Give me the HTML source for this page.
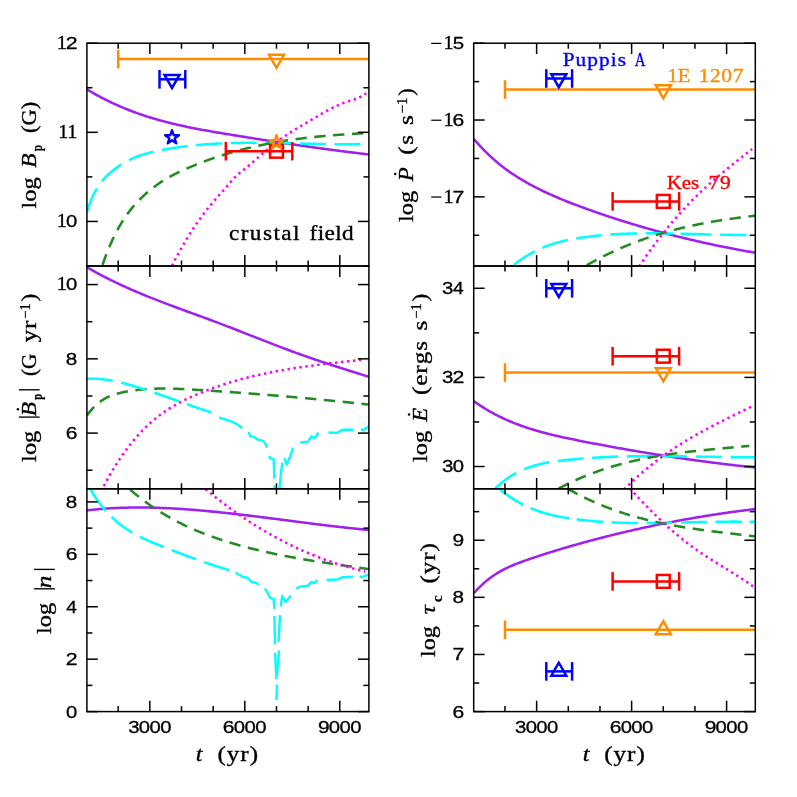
<!DOCTYPE html>
<html><head><meta charset="utf-8"><title>chart</title><style>html,body{margin:0;padding:0;background:#fff}text{font-kerning:none}svg{display:block;will-change:transform}</style></head><body>
<svg width="797" height="797" viewBox="0 0 797 797">
<rect width="797" height="797" fill="#fff"/>
<defs>
<clipPath id="c0"><rect x="86.90" y="43.20" width="282.00" height="222.80"/></clipPath>
<clipPath id="c1"><rect x="86.90" y="266.00" width="282.00" height="222.80"/></clipPath>
<clipPath id="c2"><rect x="86.90" y="488.80" width="282.00" height="222.80"/></clipPath>
<clipPath id="c3"><rect x="473.70" y="43.20" width="281.60" height="222.80"/></clipPath>
<clipPath id="c4"><rect x="473.70" y="266.00" width="281.60" height="222.80"/></clipPath>
<clipPath id="c5"><rect x="473.70" y="488.80" width="281.60" height="222.80"/></clipPath>
</defs>
<path d="M86.90 89.30 L88.19 90.08 L89.48 90.84 L90.76 91.60 L92.05 92.35 L93.34 93.09 L94.63 93.82 L95.91 94.55 L97.20 95.26 L98.49 95.96 L99.78 96.65 L101.06 97.34 L102.35 98.01 L103.64 98.68 L104.93 99.33 L106.22 99.98 L107.50 100.62 L108.79 101.25 L110.08 101.88 L111.37 102.49 L112.65 103.09 L113.94 103.69 L115.23 104.28 L116.52 104.86 L117.80 105.44 L119.09 106.00 L120.38 106.56 L121.67 107.11 L122.95 107.65 L124.24 108.18 L125.53 108.71 L126.82 109.23 L128.11 109.74 L129.39 110.25 L130.68 110.74 L131.97 111.23 L133.26 111.72 L134.54 112.19 L135.83 112.66 L137.12 113.13 L138.41 113.58 L139.69 114.03 L140.98 114.48 L142.27 114.91 L143.56 115.35 L144.85 115.77 L146.13 116.19 L147.42 116.60 L148.71 117.01 L150.00 117.41 L151.28 117.80 L152.57 118.19 L153.86 118.58 L155.15 118.96 L156.43 119.33 L157.72 119.70 L159.01 120.06 L160.30 120.42 L161.58 120.77 L162.87 121.12 L164.16 121.46 L165.45 121.80 L166.74 122.13 L168.02 122.46 L169.31 122.79 L170.60 123.10 L171.89 123.42 L173.17 123.73 L174.46 124.04 L175.75 124.34 L177.04 124.64 L178.32 124.94 L179.61 125.23 L180.90 125.51 L182.19 125.80 L183.48 126.08 L184.76 126.35 L186.05 126.63 L187.34 126.90 L188.63 127.17 L189.91 127.43 L191.20 127.69 L192.49 127.95 L193.78 128.20 L195.06 128.46 L196.35 128.70 L197.64 128.95 L198.93 129.20 L200.22 129.44 L201.50 129.68 L202.79 129.92 L204.08 130.15 L205.37 130.38 L206.65 130.62 L207.94 130.85 L209.23 131.07 L210.52 131.30 L211.80 131.52 L213.09 131.75 L214.38 131.97 L215.67 132.19 L216.95 132.41 L218.24 132.62 L219.53 132.84 L220.82 133.06 L222.11 133.27 L223.39 133.48 L224.68 133.70 L225.97 133.91 L227.26 134.12 L228.54 134.33 L229.83 134.54 L231.12 134.75 L232.41 134.96 L233.69 135.17 L234.98 135.38 L236.27 135.59 L237.56 135.80 L238.85 136.01 L240.13 136.22 L241.42 136.43 L242.71 136.63 L244.00 136.84 L245.28 137.05 L246.57 137.25 L247.86 137.46 L249.15 137.67 L250.43 137.87 L251.72 138.08 L253.01 138.28 L254.30 138.49 L255.58 138.69 L256.87 138.89 L258.16 139.10 L259.45 139.30 L260.74 139.50 L262.02 139.70 L263.31 139.90 L264.60 140.11 L265.89 140.31 L267.17 140.51 L268.46 140.71 L269.75 140.90 L271.04 141.10 L272.32 141.30 L273.61 141.50 L274.90 141.70 L276.19 141.89 L277.48 142.09 L278.76 142.29 L280.05 142.48 L281.34 142.68 L282.63 142.87 L283.91 143.06 L285.20 143.26 L286.49 143.45 L287.78 143.64 L289.06 143.83 L290.35 144.03 L291.64 144.22 L292.93 144.41 L294.22 144.60 L295.50 144.79 L296.79 144.97 L298.08 145.16 L299.37 145.35 L300.65 145.54 L301.94 145.72 L303.23 145.91 L304.52 146.09 L305.80 146.28 L307.09 146.46 L308.38 146.64 L309.67 146.83 L310.95 147.01 L312.24 147.19 L313.53 147.37 L314.82 147.55 L316.11 147.73 L317.39 147.91 L318.68 148.09 L319.97 148.26 L321.26 148.44 L322.54 148.62 L323.83 148.79 L325.12 148.97 L326.41 149.14 L327.69 149.32 L328.98 149.49 L330.27 149.66 L331.56 149.83 L332.85 150.00 L334.13 150.17 L335.42 150.34 L336.71 150.51 L338.00 150.68 L339.28 150.84 L340.57 151.01 L341.86 151.18 L343.15 151.34 L344.43 151.51 L345.72 151.67 L347.01 151.83 L348.30 151.99 L349.58 152.15 L350.87 152.31 L352.16 152.47 L353.45 152.63 L354.74 152.79 L356.02 152.95 L357.31 153.10 L358.60 153.26 L359.89 153.41 L361.17 153.57 L362.46 153.72 L363.75 153.87 L365.04 154.02 L366.32 154.18 L367.61 154.32 L368.90 154.47" fill="none" stroke="#a020f0" stroke-width="2.55" stroke-linejoin="round" clip-path="url(#c0)"/>
<path d="M86.90 212.24 L88.19 207.92 L89.48 204.08 L90.76 200.68 L92.05 197.65 L93.34 194.95 L94.63 192.50 L95.91 190.25 L97.20 188.15 L98.49 186.18 L99.78 184.33 L101.06 182.58 L102.35 180.94 L103.64 179.39 L104.93 177.93 L106.22 176.55 L107.50 175.25 L108.79 174.02 L110.08 172.85 L111.37 171.73 L112.65 170.66 L113.94 169.63 L115.23 168.64 L116.52 167.68 L117.80 166.76 L119.09 165.88 L120.38 165.02 L121.67 164.20 L122.95 163.41 L124.24 162.65 L125.53 161.92 L126.82 161.22 L128.11 160.55 L129.39 159.91 L130.68 159.29 L131.97 158.70 L133.26 158.13 L134.54 157.58 L135.83 157.06 L137.12 156.56 L138.41 156.08 L139.69 155.63 L140.98 155.19 L142.27 154.77 L143.56 154.36 L144.85 153.98 L146.13 153.61 L147.42 153.25 L148.71 152.91 L150.00 152.58 L151.28 152.26 L152.57 151.96 L153.86 151.67 L155.15 151.38 L156.43 151.11 L157.72 150.84 L159.01 150.58 L160.30 150.32 L161.58 150.07 L162.87 149.83 L164.16 149.59 L165.45 149.36 L166.74 149.13 L168.02 148.90 L169.31 148.69 L170.60 148.47 L171.89 148.26 L173.17 148.06 L174.46 147.86 L175.75 147.67 L177.04 147.48 L178.32 147.29 L179.61 147.11 L180.90 146.93 L182.19 146.76 L183.48 146.59 L184.76 146.43 L186.05 146.27 L187.34 146.12 L188.63 145.97 L189.91 145.82 L191.20 145.68 L192.49 145.54 L193.78 145.41 L195.06 145.28 L196.35 145.16 L197.64 145.03 L198.93 144.92 L200.22 144.80 L201.50 144.69 L202.79 144.59 L204.08 144.48 L205.37 144.38 L206.65 144.29 L207.94 144.19 L209.23 144.11 L210.52 144.02 L211.80 143.94 L213.09 143.86 L214.38 143.78 L215.67 143.71 L216.95 143.64 L218.24 143.58 L219.53 143.51 L220.82 143.45 L222.11 143.40 L223.39 143.34 L224.68 143.29 L225.97 143.24 L227.26 143.20 L228.54 143.15 L229.83 143.11 L231.12 143.07 L232.41 143.04 L233.69 143.01 L234.98 142.98 L236.27 142.95 L237.56 142.92 L238.85 142.90 L240.13 142.88 L241.42 142.86 L242.71 142.84 L244.00 142.83 L245.28 142.82 L246.57 142.81 L247.86 142.80 L249.15 142.79 L250.43 142.79 L251.72 142.79 L253.01 142.78 L254.30 142.79 L255.58 142.79 L256.87 142.79 L258.16 142.80 L259.45 142.81 L260.74 142.81 L262.02 142.82 L263.31 142.84 L264.60 142.85 L265.89 142.86 L267.17 142.88 L268.46 142.90 L269.75 142.91 L271.04 142.93 L272.32 142.95 L273.61 142.97 L274.90 142.99 L276.19 143.02 L277.48 143.04 L278.76 143.07 L280.05 143.09 L281.34 143.12 L282.63 143.14 L283.91 143.17 L285.20 143.20 L286.49 143.23 L287.78 143.25 L289.06 143.28 L290.35 143.31 L291.64 143.34 L292.93 143.37 L294.22 143.40 L295.50 143.43 L296.79 143.46 L298.08 143.49 L299.37 143.52 L300.65 143.56 L301.94 143.59 L303.23 143.62 L304.52 143.65 L305.80 143.68 L307.09 143.70 L308.38 143.73 L309.67 143.76 L310.95 143.79 L312.24 143.82 L313.53 143.85 L314.82 143.87 L316.11 143.90 L317.39 143.93 L318.68 143.95 L319.97 143.97 L321.26 144.00 L322.54 144.02 L323.83 144.04 L325.12 144.06 L326.41 144.08 L327.69 144.10 L328.98 144.12 L330.27 144.13 L331.56 144.15 L332.85 144.16 L334.13 144.17 L335.42 144.18 L336.71 144.19 L338.00 144.20 L339.28 144.21 L340.57 144.21 L341.86 144.22 L343.15 144.22 L344.43 144.22 L345.72 144.22 L347.01 144.21 L348.30 144.21 L349.58 144.20 L350.87 144.19 L352.16 144.18 L353.45 144.16 L354.74 144.15 L356.02 144.13 L357.31 144.11 L358.60 144.09 L359.89 144.07 L361.17 144.04 L362.46 144.01 L363.75 143.98 L365.04 143.94 L366.32 143.91 L367.61 143.87 L368.90 143.83" fill="none" stroke="#00ffff" stroke-width="2.55" stroke-linejoin="round" stroke-dasharray="26 8.6" stroke-dashoffset="0" clip-path="url(#c0)"/>
<path d="M102.50 264.95 L103.72 261.49 L104.93 258.15 L106.15 254.92 L107.37 251.80 L108.58 248.79 L109.80 245.89 L111.02 243.09 L112.23 240.39 L113.45 237.79 L114.66 235.28 L115.88 232.86 L117.10 230.53 L118.31 228.29 L119.53 226.13 L120.75 224.05 L121.96 222.04 L123.18 220.10 L124.40 218.24 L125.61 216.44 L126.83 214.71 L128.05 213.04 L129.26 211.43 L130.48 209.87 L131.69 208.36 L132.91 206.90 L134.13 205.49 L135.34 204.13 L136.56 202.80 L137.78 201.51 L138.99 200.25 L140.21 199.02 L141.43 197.83 L142.64 196.66 L143.86 195.52 L145.08 194.41 L146.29 193.32 L147.51 192.26 L148.72 191.23 L149.94 190.22 L151.16 189.24 L152.37 188.28 L153.59 187.34 L154.81 186.43 L156.02 185.54 L157.24 184.67 L158.46 183.82 L159.67 182.99 L160.89 182.18 L162.11 181.39 L163.32 180.62 L164.54 179.86 L165.75 179.13 L166.97 178.41 L168.19 177.70 L169.40 177.02 L170.62 176.34 L171.84 175.68 L173.05 175.04 L174.27 174.40 L175.49 173.78 L176.70 173.17 L177.92 172.58 L179.14 171.99 L180.35 171.41 L181.57 170.85 L182.78 170.29 L184.00 169.74 L185.22 169.20 L186.43 168.66 L187.65 168.13 L188.87 167.61 L190.08 167.09 L191.30 166.58 L192.52 166.07 L193.73 165.57 L194.95 165.07 L196.17 164.58 L197.38 164.10 L198.60 163.62 L199.82 163.14 L201.03 162.67 L202.25 162.20 L203.46 161.74 L204.68 161.29 L205.90 160.84 L207.11 160.39 L208.33 159.95 L209.55 159.51 L210.76 159.08 L211.98 158.66 L213.20 158.24 L214.41 157.82 L215.63 157.41 L216.85 157.00 L218.06 156.60 L219.28 156.20 L220.49 155.81 L221.71 155.42 L222.93 155.04 L224.14 154.66 L225.36 154.28 L226.58 153.91 L227.79 153.55 L229.01 153.18 L230.23 152.83 L231.44 152.47 L232.66 152.13 L233.88 151.78 L235.09 151.44 L236.31 151.11 L237.52 150.77 L238.74 150.45 L239.96 150.12 L241.17 149.80 L242.39 149.49 L243.61 149.18 L244.82 148.87 L246.04 148.57 L247.26 148.27 L248.47 147.97 L249.69 147.68 L250.91 147.40 L252.12 147.11 L253.34 146.83 L254.55 146.56 L255.77 146.28 L256.99 146.01 L258.20 145.75 L259.42 145.49 L260.64 145.23 L261.85 144.98 L263.07 144.73 L264.29 144.48 L265.50 144.24 L266.72 144.00 L267.94 143.76 L269.15 143.52 L270.37 143.29 L271.58 143.07 L272.80 142.84 L274.02 142.62 L275.23 142.41 L276.45 142.19 L277.67 141.98 L278.88 141.78 L280.10 141.57 L281.32 141.37 L282.53 141.17 L283.75 140.98 L284.97 140.79 L286.18 140.60 L287.40 140.41 L288.62 140.23 L289.83 140.05 L291.05 139.87 L292.26 139.69 L293.48 139.52 L294.70 139.35 L295.91 139.19 L297.13 139.02 L298.35 138.86 L299.56 138.70 L300.78 138.55 L302.00 138.39 L303.21 138.24 L304.43 138.09 L305.65 137.95 L306.86 137.80 L308.08 137.66 L309.29 137.53 L310.51 137.39 L311.73 137.25 L312.94 137.12 L314.16 136.99 L315.38 136.87 L316.59 136.74 L317.81 136.62 L319.03 136.50 L320.24 136.38 L321.46 136.26 L322.68 136.15 L323.89 136.04 L325.11 135.92 L326.32 135.82 L327.54 135.71 L328.76 135.60 L329.97 135.50 L331.19 135.40 L332.41 135.30 L333.62 135.20 L334.84 135.11 L336.06 135.01 L337.27 134.92 L338.49 134.83 L339.71 134.74 L340.92 134.65 L342.14 134.57 L343.35 134.48 L344.57 134.40 L345.79 134.32 L347.00 134.24 L348.22 134.16 L349.44 134.08 L350.65 134.00 L351.87 133.93 L353.09 133.86 L354.30 133.78 L355.52 133.71 L356.74 133.64 L357.95 133.57 L359.17 133.51 L360.38 133.44 L361.60 133.37 L362.82 133.31 L364.03 133.25 L365.25 133.18 L366.47 133.12 L367.68 133.06 L368.90 133.00" fill="none" stroke="#228b22" stroke-width="2.55" stroke-linejoin="round" stroke-dasharray="11.3 7.6" stroke-dashoffset="0" clip-path="url(#c0)"/>
<path d="M172.00 265.86 L172.89 264.08 L173.77 262.32 L174.66 260.59 L175.55 258.87 L176.43 257.18 L177.32 255.50 L178.21 253.84 L179.09 252.21 L179.98 250.59 L180.87 249.00 L181.75 247.42 L182.64 245.86 L183.53 244.32 L184.41 242.80 L185.30 241.30 L186.19 239.82 L187.07 238.35 L187.96 236.90 L188.85 235.47 L189.74 234.05 L190.62 232.65 L191.51 231.27 L192.40 229.91 L193.28 228.56 L194.17 227.22 L195.06 225.91 L195.94 224.60 L196.83 223.32 L197.72 222.05 L198.60 220.79 L199.49 219.54 L200.38 218.32 L201.26 217.10 L202.15 215.90 L203.04 214.71 L203.92 213.54 L204.81 212.38 L205.70 211.23 L206.58 210.09 L207.47 208.97 L208.36 207.86 L209.24 206.76 L210.13 205.67 L211.02 204.59 L211.90 203.53 L212.79 202.47 L213.68 201.43 L214.56 200.39 L215.45 199.37 L216.34 198.35 L217.22 197.34 L218.11 196.34 L219.00 195.35 L219.88 194.36 L220.77 193.38 L221.66 192.39 L222.55 191.40 L223.43 190.40 L224.32 189.40 L225.21 188.40 L226.09 187.38 L226.98 186.35 L227.87 185.30 L228.75 184.25 L229.64 183.20 L230.53 182.15 L231.41 181.12 L232.30 180.11 L233.19 179.12 L234.07 178.16 L234.96 177.24 L235.85 176.37 L236.73 175.53 L237.62 174.73 L238.51 173.97 L239.39 173.22 L240.28 172.49 L241.17 171.78 L242.05 171.08 L242.94 170.37 L243.83 169.67 L244.71 168.95 L245.60 168.24 L246.49 167.51 L247.37 166.77 L248.26 166.04 L249.15 165.29 L250.03 164.54 L250.92 163.78 L251.81 163.03 L252.69 162.26 L253.58 161.50 L254.47 160.73 L255.36 159.96 L256.24 159.18 L257.13 158.41 L258.02 157.63 L258.90 156.86 L259.79 156.08 L260.68 155.31 L261.56 154.54 L262.45 153.76 L263.34 152.99 L264.22 152.23 L265.11 151.46 L266.00 150.70 L266.88 149.95 L267.77 149.19 L268.66 148.45 L269.54 147.70 L270.43 146.97 L271.32 146.24 L272.20 145.51 L273.09 144.80 L273.98 144.09 L274.86 143.39 L275.75 142.70 L276.64 142.02 L277.52 141.35 L278.41 140.68 L279.30 140.03 L280.18 139.38 L281.07 138.75 L281.96 138.12 L282.84 137.49 L283.73 136.88 L284.62 136.27 L285.51 135.67 L286.39 135.08 L287.28 134.49 L288.17 133.91 L289.05 133.33 L289.94 132.76 L290.83 132.19 L291.71 131.63 L292.60 131.08 L293.49 130.52 L294.37 129.98 L295.26 129.43 L296.15 128.89 L297.03 128.35 L297.92 127.82 L298.81 127.29 L299.69 126.76 L300.58 126.23 L301.47 125.70 L302.35 125.18 L303.24 124.65 L304.13 124.13 L305.01 123.61 L305.90 123.09 L306.79 122.57 L307.67 122.05 L308.56 121.52 L309.45 121.00 L310.33 120.48 L311.22 119.95 L312.11 119.43 L312.99 118.90 L313.88 118.38 L314.77 117.85 L315.65 117.33 L316.54 116.81 L317.43 116.28 L318.32 115.76 L319.20 115.25 L320.09 114.73 L320.98 114.22 L321.86 113.70 L322.75 113.20 L323.64 112.69 L324.52 112.19 L325.41 111.70 L326.30 111.20 L327.18 110.72 L328.07 110.23 L328.96 109.76 L329.84 109.29 L330.73 108.82 L331.62 108.36 L332.50 107.91 L333.39 107.46 L334.28 107.02 L335.16 106.59 L336.05 106.17 L336.94 105.75 L337.82 105.34 L338.71 104.95 L339.60 104.56 L340.48 104.18 L341.37 103.81 L342.26 103.45 L343.14 103.10 L344.03 102.76 L344.92 102.43 L345.80 102.11 L346.69 101.80 L347.58 101.51 L348.46 101.22 L349.35 100.95 L350.24 100.68 L351.13 100.41 L352.01 100.14 L352.90 99.87 L353.79 99.59 L354.67 99.29 L355.56 98.99 L356.45 98.67 L357.33 98.33 L358.22 97.97 L359.11 97.58 L359.99 97.16 L360.88 96.72 L361.77 96.24 L362.65 95.72 L363.54 95.16 L364.43 94.55 L365.31 93.90 L366.20 93.20" fill="none" stroke="#ff00ff" stroke-width="2.55" stroke-linejoin="round" stroke-dasharray="2.4 3.6" stroke-dashoffset="0" clip-path="url(#c0)"/>
<path d="M86.90 267.25 L88.19 268.00 L89.48 268.74 L90.76 269.47 L92.05 270.19 L93.34 270.91 L94.63 271.62 L95.91 272.33 L97.20 273.02 L98.49 273.72 L99.78 274.40 L101.06 275.09 L102.35 275.76 L103.64 276.43 L104.93 277.09 L106.22 277.75 L107.50 278.40 L108.79 279.05 L110.08 279.69 L111.37 280.33 L112.65 280.96 L113.94 281.59 L115.23 282.21 L116.52 282.82 L117.80 283.44 L119.09 284.04 L120.38 284.64 L121.67 285.24 L122.95 285.83 L124.24 286.42 L125.53 287.01 L126.82 287.58 L128.11 288.16 L129.39 288.73 L130.68 289.30 L131.97 289.86 L133.26 290.42 L134.54 290.98 L135.83 291.53 L137.12 292.08 L138.41 292.62 L139.69 293.16 L140.98 293.70 L142.27 294.23 L143.56 294.76 L144.85 295.29 L146.13 295.82 L147.42 296.34 L148.71 296.86 L150.00 297.37 L151.28 297.89 L152.57 298.40 L153.86 298.91 L155.15 299.41 L156.43 299.92 L157.72 300.42 L159.01 300.92 L160.30 301.41 L161.58 301.91 L162.87 302.40 L164.16 302.89 L165.45 303.38 L166.74 303.87 L168.02 304.35 L169.31 304.84 L170.60 305.32 L171.89 305.80 L173.17 306.28 L174.46 306.76 L175.75 307.24 L177.04 307.71 L178.32 308.19 L179.61 308.66 L180.90 309.13 L182.19 309.61 L183.48 310.08 L184.76 310.55 L186.05 311.02 L187.34 311.49 L188.63 311.96 L189.91 312.43 L191.20 312.90 L192.49 313.37 L193.78 313.84 L195.06 314.31 L196.35 314.78 L197.64 315.25 L198.93 315.72 L200.22 316.20 L201.50 316.67 L202.79 317.14 L204.08 317.61 L205.37 318.09 L206.65 318.56 L207.94 319.04 L209.23 319.51 L210.52 319.99 L211.80 320.47 L213.09 320.95 L214.38 321.43 L215.67 321.91 L216.95 322.40 L218.24 322.88 L219.53 323.37 L220.82 323.86 L222.11 324.35 L223.39 324.84 L224.68 325.33 L225.97 325.82 L227.26 326.32 L228.54 326.82 L229.83 327.31 L231.12 327.81 L232.41 328.31 L233.69 328.81 L234.98 329.31 L236.27 329.81 L237.56 330.31 L238.85 330.81 L240.13 331.32 L241.42 331.82 L242.71 332.33 L244.00 332.83 L245.28 333.33 L246.57 333.84 L247.86 334.34 L249.15 334.85 L250.43 335.35 L251.72 335.86 L253.01 336.37 L254.30 336.87 L255.58 337.38 L256.87 337.88 L258.16 338.38 L259.45 338.89 L260.74 339.39 L262.02 339.90 L263.31 340.40 L264.60 340.90 L265.89 341.40 L267.17 341.90 L268.46 342.40 L269.75 342.90 L271.04 343.40 L272.32 343.90 L273.61 344.40 L274.90 344.89 L276.19 345.39 L277.48 345.88 L278.76 346.37 L280.05 346.86 L281.34 347.35 L282.63 347.84 L283.91 348.32 L285.20 348.81 L286.49 349.29 L287.78 349.78 L289.06 350.26 L290.35 350.73 L291.64 351.21 L292.93 351.68 L294.22 352.16 L295.50 352.63 L296.79 353.10 L298.08 353.56 L299.37 354.03 L300.65 354.49 L301.94 354.95 L303.23 355.41 L304.52 355.86 L305.80 356.32 L307.09 356.77 L308.38 357.22 L309.67 357.66 L310.95 358.11 L312.24 358.55 L313.53 358.99 L314.82 359.43 L316.11 359.87 L317.39 360.31 L318.68 360.74 L319.97 361.17 L321.26 361.61 L322.54 362.03 L323.83 362.46 L325.12 362.89 L326.41 363.31 L327.69 363.74 L328.98 364.16 L330.27 364.58 L331.56 365.00 L332.85 365.42 L334.13 365.84 L335.42 366.25 L336.71 366.67 L338.00 367.08 L339.28 367.49 L340.57 367.91 L341.86 368.32 L343.15 368.73 L344.43 369.14 L345.72 369.54 L347.01 369.95 L348.30 370.36 L349.58 370.76 L350.87 371.17 L352.16 371.58 L353.45 371.98 L354.74 372.38 L356.02 372.79 L357.31 373.19 L358.60 373.59 L359.89 373.99 L361.17 374.40 L362.46 374.80 L363.75 375.20 L365.04 375.60 L366.32 376.00 L367.61 376.40 L368.90 376.81" fill="none" stroke="#a020f0" stroke-width="2.55" stroke-linejoin="round" clip-path="url(#c1)"/>
<path d="M86.90 415.52 L88.19 413.78 L89.48 412.12 L90.76 410.57 L92.05 409.09 L93.34 407.71 L94.63 406.41 L95.91 405.18 L97.20 404.04 L98.49 402.96 L99.78 401.96 L101.06 401.02 L102.35 400.15 L103.64 399.33 L104.93 398.58 L106.22 397.88 L107.50 397.23 L108.79 396.63 L110.08 396.07 L111.37 395.56 L112.65 395.08 L113.94 394.64 L115.23 394.23 L116.52 393.86 L117.80 393.51 L119.09 393.18 L120.38 392.87 L121.67 392.58 L122.95 392.30 L124.24 392.04 L125.53 391.78 L126.82 391.54 L128.11 391.31 L129.39 391.09 L130.68 390.88 L131.97 390.68 L133.26 390.49 L134.54 390.31 L135.83 390.14 L137.12 389.98 L138.41 389.83 L139.69 389.69 L140.98 389.56 L142.27 389.44 L143.56 389.33 L144.85 389.22 L146.13 389.12 L147.42 389.04 L148.71 388.96 L150.00 388.88 L151.28 388.82 L152.57 388.76 L153.86 388.71 L155.15 388.66 L156.43 388.63 L157.72 388.60 L159.01 388.57 L160.30 388.56 L161.58 388.54 L162.87 388.54 L164.16 388.54 L165.45 388.54 L166.74 388.56 L168.02 388.57 L169.31 388.59 L170.60 388.62 L171.89 388.65 L173.17 388.68 L174.46 388.72 L175.75 388.76 L177.04 388.81 L178.32 388.86 L179.61 388.91 L180.90 388.97 L182.19 389.03 L183.48 389.09 L184.76 389.15 L186.05 389.22 L187.34 389.29 L188.63 389.36 L189.91 389.43 L191.20 389.51 L192.49 389.58 L193.78 389.66 L195.06 389.74 L196.35 389.82 L197.64 389.90 L198.93 389.98 L200.22 390.06 L201.50 390.14 L202.79 390.22 L204.08 390.31 L205.37 390.39 L206.65 390.47 L207.94 390.56 L209.23 390.64 L210.52 390.73 L211.80 390.81 L213.09 390.90 L214.38 390.98 L215.67 391.07 L216.95 391.15 L218.24 391.24 L219.53 391.33 L220.82 391.42 L222.11 391.51 L223.39 391.60 L224.68 391.68 L225.97 391.77 L227.26 391.87 L228.54 391.96 L229.83 392.05 L231.12 392.14 L232.41 392.23 L233.69 392.32 L234.98 392.42 L236.27 392.51 L237.56 392.60 L238.85 392.70 L240.13 392.79 L241.42 392.89 L242.71 392.98 L244.00 393.08 L245.28 393.18 L246.57 393.27 L247.86 393.37 L249.15 393.47 L250.43 393.57 L251.72 393.67 L253.01 393.77 L254.30 393.87 L255.58 393.97 L256.87 394.07 L258.16 394.17 L259.45 394.27 L260.74 394.37 L262.02 394.47 L263.31 394.58 L264.60 394.68 L265.89 394.78 L267.17 394.89 L268.46 394.99 L269.75 395.10 L271.04 395.21 L272.32 395.31 L273.61 395.42 L274.90 395.52 L276.19 395.63 L277.48 395.74 L278.76 395.85 L280.05 395.96 L281.34 396.07 L282.63 396.18 L283.91 396.29 L285.20 396.40 L286.49 396.51 L287.78 396.62 L289.06 396.73 L290.35 396.84 L291.64 396.96 L292.93 397.07 L294.22 397.18 L295.50 397.30 L296.79 397.41 L298.08 397.53 L299.37 397.64 L300.65 397.76 L301.94 397.88 L303.23 397.99 L304.52 398.11 L305.80 398.23 L307.09 398.35 L308.38 398.47 L309.67 398.59 L310.95 398.71 L312.24 398.83 L313.53 398.95 L314.82 399.07 L316.11 399.19 L317.39 399.31 L318.68 399.43 L319.97 399.56 L321.26 399.68 L322.54 399.81 L323.83 399.93 L325.12 400.05 L326.41 400.18 L327.69 400.31 L328.98 400.43 L330.27 400.56 L331.56 400.69 L332.85 400.81 L334.13 400.94 L335.42 401.07 L336.71 401.20 L338.00 401.33 L339.28 401.46 L340.57 401.59 L341.86 401.72 L343.15 401.85 L344.43 401.98 L345.72 402.11 L347.01 402.25 L348.30 402.38 L349.58 402.51 L350.87 402.65 L352.16 402.78 L353.45 402.92 L354.74 403.05 L356.02 403.19 L357.31 403.32 L358.60 403.46 L359.89 403.60 L361.17 403.74 L362.46 403.87 L363.75 404.01 L365.04 404.15 L366.32 404.29 L367.61 404.43 L368.90 404.57" fill="none" stroke="#228b22" stroke-width="2.55" stroke-linejoin="round" stroke-dasharray="11.3 7.6" stroke-dashoffset="0" clip-path="url(#c1)"/>
<path d="M103.80 486.10 L104.99 483.85 L106.18 481.63 L107.37 479.45 L108.56 477.31 L109.75 475.20 L110.94 473.14 L112.13 471.11 L113.32 469.11 L114.51 467.16 L115.69 465.24 L116.88 463.35 L118.07 461.50 L119.26 459.68 L120.45 457.90 L121.64 456.15 L122.83 454.43 L124.02 452.74 L125.21 451.09 L126.40 449.47 L127.59 447.88 L128.78 446.32 L129.97 444.79 L131.16 443.30 L132.35 441.83 L133.54 440.39 L134.73 438.98 L135.92 437.59 L137.11 436.24 L138.30 434.91 L139.48 433.61 L140.67 432.34 L141.86 431.09 L143.05 429.87 L144.24 428.67 L145.43 427.50 L146.62 426.35 L147.81 425.23 L149.00 424.13 L150.19 423.05 L151.38 422.00 L152.57 420.97 L153.76 419.96 L154.95 418.97 L156.14 418.00 L157.33 417.05 L158.52 416.13 L159.71 415.22 L160.90 414.33 L162.09 413.47 L163.27 412.62 L164.46 411.78 L165.65 410.97 L166.84 410.17 L168.03 409.39 L169.22 408.63 L170.41 407.88 L171.60 407.14 L172.79 406.43 L173.98 405.72 L175.17 405.03 L176.36 404.36 L177.55 403.70 L178.74 403.05 L179.93 402.41 L181.12 401.79 L182.31 401.17 L183.50 400.57 L184.69 399.98 L185.88 399.40 L187.06 398.83 L188.25 398.27 L189.44 397.71 L190.63 397.17 L191.82 396.63 L193.01 396.10 L194.20 395.58 L195.39 395.07 L196.58 394.56 L197.77 394.06 L198.96 393.57 L200.15 393.08 L201.34 392.59 L202.53 392.11 L203.72 391.64 L204.91 391.17 L206.10 390.71 L207.29 390.25 L208.48 389.80 L209.67 389.35 L210.85 388.91 L212.04 388.47 L213.23 388.04 L214.42 387.61 L215.61 387.19 L216.80 386.77 L217.99 386.36 L219.18 385.95 L220.37 385.55 L221.56 385.15 L222.75 384.76 L223.94 384.37 L225.13 383.99 L226.32 383.61 L227.51 383.24 L228.70 382.87 L229.89 382.50 L231.08 382.14 L232.27 381.78 L233.46 381.43 L234.64 381.08 L235.83 380.74 L237.02 380.40 L238.21 380.06 L239.40 379.73 L240.59 379.41 L241.78 379.08 L242.97 378.76 L244.16 378.45 L245.35 378.14 L246.54 377.83 L247.73 377.53 L248.92 377.23 L250.11 376.93 L251.30 376.64 L252.49 376.35 L253.68 376.06 L254.87 375.78 L256.06 375.51 L257.25 375.23 L258.43 374.96 L259.62 374.69 L260.81 374.43 L262.00 374.17 L263.19 373.91 L264.38 373.65 L265.57 373.40 L266.76 373.16 L267.95 372.91 L269.14 372.67 L270.33 372.43 L271.52 372.19 L272.71 371.96 L273.90 371.73 L275.09 371.50 L276.28 371.28 L277.47 371.06 L278.66 370.84 L279.85 370.62 L281.04 370.41 L282.22 370.20 L283.41 369.99 L284.60 369.78 L285.79 369.58 L286.98 369.38 L288.17 369.18 L289.36 368.98 L290.55 368.79 L291.74 368.60 L292.93 368.41 L294.12 368.22 L295.31 368.03 L296.50 367.85 L297.69 367.67 L298.88 367.49 L300.07 367.31 L301.26 367.14 L302.45 366.96 L303.64 366.79 L304.83 366.62 L306.01 366.45 L307.20 366.29 L308.39 366.12 L309.58 365.96 L310.77 365.80 L311.96 365.64 L313.15 365.48 L314.34 365.32 L315.53 365.16 L316.72 365.01 L317.91 364.86 L319.10 364.71 L320.29 364.55 L321.48 364.40 L322.67 364.26 L323.86 364.11 L325.05 363.96 L326.24 363.82 L327.43 363.67 L328.62 363.53 L329.80 363.39 L330.99 363.25 L332.18 363.10 L333.37 362.96 L334.56 362.83 L335.75 362.69 L336.94 362.55 L338.13 362.41 L339.32 362.27 L340.51 362.14 L341.70 362.00 L342.89 361.87 L344.08 361.73 L345.27 361.60 L346.46 361.46 L347.65 361.33 L348.84 361.19 L350.03 361.06 L351.22 360.92 L352.41 360.79 L353.59 360.66 L354.78 360.52 L355.97 360.39 L357.16 360.26 L358.35 360.12 L359.54 359.99 L360.73 359.85 L361.92 359.72 L363.11 359.58 L364.30 359.45" fill="none" stroke="#ff00ff" stroke-width="2.55" stroke-linejoin="round" stroke-dasharray="2.4 3.6" stroke-dashoffset="0" clip-path="url(#c1)"/>
<path d="M86.90 510.39 L88.19 510.24 L89.48 510.10 L90.76 509.96 L92.05 509.82 L93.34 509.69 L94.63 509.56 L95.91 509.44 L97.20 509.32 L98.49 509.21 L99.78 509.10 L101.06 508.99 L102.35 508.89 L103.64 508.79 L104.93 508.69 L106.22 508.60 L107.50 508.52 L108.79 508.43 L110.08 508.35 L111.37 508.28 L112.65 508.21 L113.94 508.14 L115.23 508.07 L116.52 508.01 L117.80 507.95 L119.09 507.90 L120.38 507.85 L121.67 507.80 L122.95 507.76 L124.24 507.72 L125.53 507.69 L126.82 507.65 L128.11 507.62 L129.39 507.60 L130.68 507.58 L131.97 507.56 L133.26 507.54 L134.54 507.53 L135.83 507.52 L137.12 507.51 L138.41 507.51 L139.69 507.51 L140.98 507.51 L142.27 507.52 L143.56 507.52 L144.85 507.54 L146.13 507.55 L147.42 507.57 L148.71 507.59 L150.00 507.61 L151.28 507.64 L152.57 507.67 L153.86 507.70 L155.15 507.73 L156.43 507.77 L157.72 507.81 L159.01 507.85 L160.30 507.90 L161.58 507.95 L162.87 508.00 L164.16 508.05 L165.45 508.11 L166.74 508.16 L168.02 508.22 L169.31 508.29 L170.60 508.35 L171.89 508.42 L173.17 508.49 L174.46 508.56 L175.75 508.63 L177.04 508.71 L178.32 508.79 L179.61 508.87 L180.90 508.95 L182.19 509.04 L183.48 509.12 L184.76 509.21 L186.05 509.30 L187.34 509.40 L188.63 509.49 L189.91 509.59 L191.20 509.69 L192.49 509.79 L193.78 509.89 L195.06 509.99 L196.35 510.10 L197.64 510.21 L198.93 510.32 L200.22 510.43 L201.50 510.54 L202.79 510.65 L204.08 510.77 L205.37 510.88 L206.65 511.00 L207.94 511.12 L209.23 511.25 L210.52 511.37 L211.80 511.49 L213.09 511.62 L214.38 511.75 L215.67 511.88 L216.95 512.01 L218.24 512.14 L219.53 512.27 L220.82 512.40 L222.11 512.54 L223.39 512.68 L224.68 512.81 L225.97 512.95 L227.26 513.09 L228.54 513.23 L229.83 513.38 L231.12 513.52 L232.41 513.66 L233.69 513.81 L234.98 513.95 L236.27 514.10 L237.56 514.25 L238.85 514.40 L240.13 514.55 L241.42 514.70 L242.71 514.85 L244.00 515.00 L245.28 515.16 L246.57 515.31 L247.86 515.47 L249.15 515.62 L250.43 515.78 L251.72 515.94 L253.01 516.10 L254.30 516.25 L255.58 516.41 L256.87 516.57 L258.16 516.73 L259.45 516.89 L260.74 517.05 L262.02 517.22 L263.31 517.38 L264.60 517.54 L265.89 517.70 L267.17 517.87 L268.46 518.03 L269.75 518.20 L271.04 518.36 L272.32 518.53 L273.61 518.69 L274.90 518.86 L276.19 519.02 L277.48 519.19 L278.76 519.35 L280.05 519.52 L281.34 519.69 L282.63 519.85 L283.91 520.02 L285.20 520.19 L286.49 520.35 L287.78 520.52 L289.06 520.69 L290.35 520.85 L291.64 521.02 L292.93 521.18 L294.22 521.35 L295.50 521.52 L296.79 521.68 L298.08 521.85 L299.37 522.01 L300.65 522.18 L301.94 522.34 L303.23 522.51 L304.52 522.67 L305.80 522.84 L307.09 523.00 L308.38 523.16 L309.67 523.33 L310.95 523.49 L312.24 523.65 L313.53 523.81 L314.82 523.97 L316.11 524.14 L317.39 524.30 L318.68 524.45 L319.97 524.61 L321.26 524.77 L322.54 524.93 L323.83 525.09 L325.12 525.24 L326.41 525.40 L327.69 525.55 L328.98 525.71 L330.27 525.86 L331.56 526.01 L332.85 526.16 L334.13 526.31 L335.42 526.46 L336.71 526.61 L338.00 526.76 L339.28 526.91 L340.57 527.05 L341.86 527.20 L343.15 527.34 L344.43 527.49 L345.72 527.63 L347.01 527.77 L348.30 527.91 L349.58 528.05 L350.87 528.18 L352.16 528.32 L353.45 528.45 L354.74 528.59 L356.02 528.72 L357.31 528.85 L358.60 528.98 L359.89 529.11 L361.17 529.23 L362.46 529.36 L363.75 529.48 L365.04 529.61 L366.32 529.73 L367.61 529.85 L368.90 529.97" fill="none" stroke="#a020f0" stroke-width="2.55" stroke-linejoin="round" clip-path="url(#c2)"/>
<path d="M130.20 489.71 L131.29 490.64 L132.38 491.55 L133.47 492.46 L134.56 493.36 L135.65 494.25 L136.74 495.13 L137.83 496.00 L138.92 496.86 L140.01 497.71 L141.10 498.55 L142.19 499.38 L143.28 500.20 L144.37 501.01 L145.46 501.82 L146.55 502.61 L147.64 503.40 L148.73 504.17 L149.82 504.94 L150.91 505.70 L152.00 506.45 L153.09 507.19 L154.18 507.92 L155.27 508.65 L156.36 509.36 L157.45 510.07 L158.54 510.77 L159.63 511.46 L160.72 512.14 L161.81 512.82 L162.90 513.49 L163.99 514.14 L165.08 514.80 L166.17 515.44 L167.26 516.08 L168.35 516.71 L169.44 517.33 L170.53 517.94 L171.62 518.55 L172.71 519.15 L173.80 519.74 L174.89 520.33 L175.98 520.90 L177.07 521.48 L178.16 522.04 L179.25 522.60 L180.34 523.15 L181.43 523.70 L182.52 524.23 L183.61 524.77 L184.70 525.29 L185.79 525.81 L186.88 526.33 L187.97 526.83 L189.06 527.33 L190.15 527.83 L191.24 528.32 L192.33 528.80 L193.42 529.28 L194.51 529.75 L195.60 530.22 L196.69 530.68 L197.78 531.14 L198.87 531.59 L199.96 532.03 L201.05 532.47 L202.14 532.91 L203.23 533.34 L204.32 533.77 L205.41 534.19 L206.50 534.60 L207.59 535.01 L208.68 535.42 L209.77 535.82 L210.86 536.22 L211.95 536.62 L213.04 537.00 L214.13 537.39 L215.22 537.77 L216.31 538.15 L217.40 538.52 L218.49 538.89 L219.58 539.26 L220.67 539.62 L221.76 539.98 L222.85 540.33 L223.94 540.68 L225.03 541.03 L226.12 541.37 L227.21 541.71 L228.30 542.05 L229.39 542.39 L230.48 542.72 L231.57 543.05 L232.66 543.37 L233.75 543.70 L234.84 544.01 L235.93 544.33 L237.02 544.64 L238.11 544.96 L239.20 545.26 L240.29 545.57 L241.38 545.87 L242.47 546.17 L243.56 546.47 L244.65 546.76 L245.74 547.05 L246.83 547.34 L247.92 547.62 L249.01 547.91 L250.09 548.19 L251.18 548.46 L252.27 548.74 L253.36 549.01 L254.45 549.28 L255.54 549.55 L256.63 549.81 L257.72 550.08 L258.81 550.34 L259.90 550.59 L260.99 550.85 L262.08 551.10 L263.17 551.35 L264.26 551.60 L265.35 551.85 L266.44 552.09 L267.53 552.33 L268.62 552.57 L269.71 552.81 L270.80 553.05 L271.89 553.28 L272.98 553.51 L274.07 553.74 L275.16 553.97 L276.25 554.19 L277.34 554.42 L278.43 554.64 L279.52 554.86 L280.61 555.08 L281.70 555.29 L282.79 555.51 L283.88 555.72 L284.97 555.93 L286.06 556.14 L287.15 556.35 L288.24 556.55 L289.33 556.76 L290.42 556.96 L291.51 557.16 L292.60 557.36 L293.69 557.56 L294.78 557.76 L295.87 557.95 L296.96 558.14 L298.05 558.34 L299.14 558.53 L300.23 558.72 L301.32 558.90 L302.41 559.09 L303.50 559.28 L304.59 559.46 L305.68 559.64 L306.77 559.83 L307.86 560.01 L308.95 560.19 L310.04 560.36 L311.13 560.54 L312.22 560.72 L313.31 560.89 L314.40 561.07 L315.49 561.24 L316.58 561.41 L317.67 561.59 L318.76 561.76 L319.85 561.93 L320.94 562.10 L322.03 562.26 L323.12 562.43 L324.21 562.60 L325.30 562.76 L326.39 562.93 L327.48 563.10 L328.57 563.26 L329.66 563.42 L330.75 563.59 L331.84 563.75 L332.93 563.91 L334.02 564.07 L335.11 564.23 L336.20 564.39 L337.29 564.55 L338.38 564.71 L339.47 564.87 L340.56 565.03 L341.65 565.19 L342.74 565.35 L343.83 565.51 L344.92 565.67 L346.01 565.82 L347.10 565.98 L348.19 566.14 L349.28 566.30 L350.37 566.45 L351.46 566.61 L352.55 566.77 L353.64 566.93 L354.73 567.08 L355.82 567.24 L356.91 567.40 L358.00 567.56 L359.09 567.71 L360.18 567.87 L361.27 568.03 L362.36 568.19 L363.45 568.35 L364.54 568.51 L365.63 568.67 L366.72 568.83 L367.81 568.99 L368.90 569.15" fill="none" stroke="#228b22" stroke-width="2.55" stroke-linejoin="round" stroke-dasharray="11.3 7.6" stroke-dashoffset="0" clip-path="url(#c2)"/>
<path d="M205.50 489.08 L206.23 489.69 L206.96 490.30 L207.69 490.90 L208.42 491.50 L209.15 492.10 L209.88 492.69 L210.60 493.29 L211.33 493.88 L212.06 494.47 L212.79 495.05 L213.52 495.64 L214.25 496.22 L214.98 496.80 L215.71 497.38 L216.44 497.95 L217.17 498.52 L217.90 499.09 L218.63 499.66 L219.36 500.23 L220.08 500.79 L220.81 501.35 L221.54 501.91 L222.27 502.47 L223.00 503.03 L223.73 503.58 L224.46 504.13 L225.19 504.68 L225.92 505.22 L226.65 505.76 L227.38 506.31 L228.11 506.85 L228.84 507.38 L229.56 507.92 L230.29 508.45 L231.02 508.98 L231.75 509.51 L232.48 510.03 L233.21 510.56 L233.94 511.08 L234.67 511.60 L235.40 512.11 L236.13 512.63 L236.86 513.14 L237.59 513.65 L238.32 514.16 L239.04 514.66 L239.77 515.17 L240.50 515.67 L241.23 516.17 L241.96 516.66 L242.69 517.16 L243.42 517.65 L244.15 518.14 L244.88 518.63 L245.61 519.12 L246.34 519.60 L247.07 520.08 L247.79 520.56 L248.52 521.04 L249.25 521.51 L249.98 521.99 L250.71 522.46 L251.44 522.93 L252.17 523.39 L252.90 523.86 L253.63 524.32 L254.36 524.78 L255.09 525.24 L255.82 525.70 L256.55 526.15 L257.27 526.60 L258.00 527.05 L258.73 527.50 L259.46 527.94 L260.19 528.39 L260.92 528.83 L261.65 529.27 L262.38 529.70 L263.11 530.14 L263.84 530.57 L264.57 531.00 L265.30 531.43 L266.03 531.86 L266.75 532.28 L267.48 532.70 L268.21 533.12 L268.94 533.54 L269.67 533.96 L270.40 534.37 L271.13 534.78 L271.86 535.19 L272.59 535.60 L273.32 536.01 L274.05 536.41 L274.78 536.81 L275.51 537.21 L276.23 537.61 L276.96 538.00 L277.69 538.40 L278.42 538.79 L279.15 539.18 L279.88 539.57 L280.61 539.95 L281.34 540.33 L282.07 540.71 L282.80 541.09 L283.53 541.47 L284.26 541.85 L284.99 542.22 L285.71 542.59 L286.44 542.96 L287.17 543.32 L287.90 543.69 L288.63 544.05 L289.36 544.41 L290.09 544.77 L290.82 545.13 L291.55 545.48 L292.28 545.84 L293.01 546.19 L293.74 546.54 L294.47 546.88 L295.19 547.23 L295.92 547.57 L296.65 547.91 L297.38 548.25 L298.11 548.59 L298.84 548.92 L299.57 549.26 L300.30 549.59 L301.03 549.92 L301.76 550.24 L302.49 550.57 L303.22 550.89 L303.95 551.21 L304.67 551.53 L305.40 551.85 L306.13 552.16 L306.86 552.48 L307.59 552.79 L308.32 553.10 L309.05 553.41 L309.78 553.71 L310.51 554.02 L311.24 554.32 L311.97 554.62 L312.70 554.92 L313.43 555.21 L314.15 555.51 L314.88 555.80 L315.61 556.09 L316.34 556.38 L317.07 556.66 L317.80 556.95 L318.53 557.23 L319.26 557.51 L319.99 557.79 L320.72 558.07 L321.45 558.34 L322.18 558.62 L322.91 558.89 L323.63 559.16 L324.36 559.43 L325.09 559.69 L325.82 559.96 L326.55 560.22 L327.28 560.48 L328.01 560.74 L328.74 560.99 L329.47 561.25 L330.20 561.50 L330.93 561.75 L331.66 562.00 L332.38 562.25 L333.11 562.49 L333.84 562.74 L334.57 562.98 L335.30 563.22 L336.03 563.45 L336.76 563.69 L337.49 563.93 L338.22 564.16 L338.95 564.39 L339.68 564.62 L340.41 564.84 L341.14 565.07 L341.86 565.29 L342.59 565.51 L343.32 565.73 L344.05 565.95 L344.78 566.17 L345.51 566.38 L346.24 566.60 L346.97 566.81 L347.70 567.02 L348.43 567.22 L349.16 567.43 L349.89 567.63 L350.62 567.83 L351.34 568.03 L352.07 568.23 L352.80 568.43 L353.53 568.62 L354.26 568.82 L354.99 569.01 L355.72 569.20 L356.45 569.39 L357.18 569.57 L357.91 569.76 L358.64 569.94 L359.37 570.12 L360.10 570.30 L360.82 570.47 L361.55 570.65 L362.28 570.82 L363.01 571.00 L363.74 571.17 L364.47 571.34 L365.20 571.50" fill="none" stroke="#ff00ff" stroke-width="2.55" stroke-linejoin="round" stroke-dasharray="2.4 3.6" stroke-dashoffset="0" clip-path="url(#c2)"/>
<path d="M473.70 138.74 L474.99 140.26 L476.27 141.75 L477.56 143.21 L478.84 144.64 L480.13 146.05 L481.42 147.43 L482.70 148.78 L483.99 150.11 L485.27 151.41 L486.56 152.69 L487.84 153.94 L489.13 155.17 L490.42 156.38 L491.70 157.56 L492.99 158.72 L494.27 159.85 L495.56 160.97 L496.85 162.06 L498.13 163.14 L499.42 164.19 L500.70 165.22 L501.99 166.24 L503.27 167.23 L504.56 168.21 L505.85 169.17 L507.13 170.11 L508.42 171.03 L509.70 171.94 L510.99 172.83 L512.28 173.70 L513.56 174.56 L514.85 175.41 L516.13 176.24 L517.42 177.06 L518.70 177.86 L519.99 178.65 L521.28 179.43 L522.56 180.19 L523.85 180.94 L525.13 181.69 L526.42 182.42 L527.71 183.14 L528.99 183.85 L530.28 184.55 L531.56 185.25 L532.85 185.93 L534.13 186.61 L535.42 187.28 L536.71 187.94 L537.99 188.59 L539.28 189.23 L540.56 189.87 L541.85 190.49 L543.14 191.11 L544.42 191.73 L545.71 192.33 L546.99 192.93 L548.28 193.52 L549.56 194.11 L550.85 194.69 L552.14 195.26 L553.42 195.83 L554.71 196.39 L555.99 196.95 L557.28 197.49 L558.57 198.04 L559.85 198.58 L561.14 199.11 L562.42 199.64 L563.71 200.16 L564.99 200.68 L566.28 201.20 L567.57 201.71 L568.85 202.21 L570.14 202.71 L571.42 203.21 L572.71 203.71 L574.00 204.20 L575.28 204.69 L576.57 205.17 L577.85 205.65 L579.14 206.13 L580.43 206.61 L581.71 207.08 L583.00 207.55 L584.28 208.02 L585.57 208.49 L586.85 208.95 L588.14 209.41 L589.43 209.87 L590.71 210.33 L592.00 210.79 L593.28 211.24 L594.57 211.69 L595.86 212.14 L597.14 212.59 L598.43 213.03 L599.71 213.48 L601.00 213.92 L602.28 214.35 L603.57 214.79 L604.86 215.22 L606.14 215.66 L607.43 216.09 L608.71 216.51 L610.00 216.94 L611.29 217.36 L612.57 217.78 L613.86 218.20 L615.14 218.62 L616.43 219.04 L617.71 219.45 L619.00 219.86 L620.29 220.27 L621.57 220.68 L622.86 221.08 L624.14 221.48 L625.43 221.89 L626.72 222.28 L628.00 222.68 L629.29 223.08 L630.57 223.47 L631.86 223.86 L633.14 224.25 L634.43 224.63 L635.72 225.02 L637.00 225.40 L638.29 225.78 L639.57 226.16 L640.86 226.54 L642.15 226.91 L643.43 227.28 L644.72 227.65 L646.00 228.02 L647.29 228.39 L648.57 228.76 L649.86 229.12 L651.15 229.48 L652.43 229.84 L653.72 230.19 L655.00 230.55 L656.29 230.90 L657.58 231.25 L658.86 231.60 L660.15 231.95 L661.43 232.30 L662.72 232.64 L664.01 232.98 L665.29 233.32 L666.58 233.66 L667.86 234.00 L669.15 234.33 L670.43 234.66 L671.72 234.99 L673.01 235.32 L674.29 235.65 L675.58 235.97 L676.86 236.30 L678.15 236.62 L679.44 236.94 L680.72 237.26 L682.01 237.57 L683.29 237.89 L684.58 238.20 L685.86 238.51 L687.15 238.82 L688.44 239.12 L689.72 239.43 L691.01 239.73 L692.29 240.03 L693.58 240.33 L694.87 240.63 L696.15 240.93 L697.44 241.22 L698.72 241.52 L700.01 241.81 L701.29 242.10 L702.58 242.38 L703.87 242.67 L705.15 242.95 L706.44 243.24 L707.72 243.52 L709.01 243.79 L710.30 244.07 L711.58 244.35 L712.87 244.62 L714.15 244.89 L715.44 245.16 L716.72 245.43 L718.01 245.70 L719.30 245.97 L720.58 246.23 L721.87 246.49 L723.15 246.75 L724.44 247.01 L725.73 247.27 L727.01 247.52 L728.30 247.78 L729.58 248.03 L730.87 248.28 L732.15 248.53 L733.44 248.78 L734.73 249.02 L736.01 249.27 L737.30 249.51 L738.58 249.75 L739.87 249.99 L741.16 250.23 L742.44 250.46 L743.73 250.70 L745.01 250.93 L746.30 251.16 L747.58 251.39 L748.87 251.62 L750.16 251.85 L751.44 252.07 L752.73 252.30 L754.01 252.52 L755.30 252.74" fill="none" stroke="#a020f0" stroke-width="2.55" stroke-linejoin="round" clip-path="url(#c3)"/>
<path d="M513.70 265.05 L514.80 264.17 L515.91 263.31 L517.01 262.47 L518.11 261.64 L519.22 260.84 L520.32 260.05 L521.42 259.29 L522.53 258.53 L523.63 257.80 L524.73 257.09 L525.84 256.39 L526.94 255.71 L528.04 255.04 L529.14 254.40 L530.25 253.76 L531.35 253.15 L532.45 252.55 L533.56 251.96 L534.66 251.39 L535.76 250.84 L536.87 250.30 L537.97 249.77 L539.07 249.26 L540.18 248.76 L541.28 248.27 L542.38 247.80 L543.49 247.34 L544.59 246.90 L545.69 246.47 L546.80 246.05 L547.90 245.64 L549.00 245.24 L550.11 244.85 L551.21 244.48 L552.31 244.12 L553.42 243.77 L554.52 243.42 L555.62 243.09 L556.72 242.77 L557.83 242.46 L558.93 242.16 L560.03 241.86 L561.14 241.58 L562.24 241.30 L563.34 241.04 L564.45 240.78 L565.55 240.53 L566.65 240.28 L567.76 240.05 L568.86 239.82 L569.96 239.60 L571.07 239.38 L572.17 239.17 L573.27 238.97 L574.38 238.78 L575.48 238.58 L576.58 238.40 L577.69 238.22 L578.79 238.04 L579.89 237.87 L580.99 237.71 L582.10 237.54 L583.20 237.39 L584.30 237.23 L585.41 237.08 L586.51 236.93 L587.61 236.79 L588.72 236.65 L589.82 236.51 L590.92 236.38 L592.03 236.25 L593.13 236.12 L594.23 236.00 L595.34 235.88 L596.44 235.76 L597.54 235.64 L598.65 235.53 L599.75 235.43 L600.85 235.32 L601.96 235.22 L603.06 235.12 L604.16 235.03 L605.27 234.94 L606.37 234.85 L607.47 234.76 L608.57 234.68 L609.68 234.60 L610.78 234.52 L611.88 234.44 L612.99 234.37 L614.09 234.30 L615.19 234.23 L616.30 234.17 L617.40 234.11 L618.50 234.05 L619.61 233.99 L620.71 233.94 L621.81 233.89 L622.92 233.84 L624.02 233.79 L625.12 233.74 L626.23 233.70 L627.33 233.66 L628.43 233.62 L629.54 233.59 L630.64 233.55 L631.74 233.52 L632.85 233.49 L633.95 233.47 L635.05 233.44 L636.15 233.42 L637.26 233.40 L638.36 233.38 L639.46 233.36 L640.57 233.34 L641.67 233.33 L642.77 233.32 L643.88 233.31 L644.98 233.30 L646.08 233.29 L647.19 233.29 L648.29 233.28 L649.39 233.28 L650.50 233.28 L651.60 233.28 L652.70 233.28 L653.81 233.28 L654.91 233.29 L656.01 233.30 L657.12 233.30 L658.22 233.31 L659.32 233.32 L660.43 233.33 L661.53 233.34 L662.63 233.36 L663.73 233.37 L664.84 233.39 L665.94 233.40 L667.04 233.42 L668.15 233.44 L669.25 233.46 L670.35 233.48 L671.46 233.50 L672.56 233.52 L673.66 233.55 L674.77 233.57 L675.87 233.59 L676.97 233.62 L678.08 233.64 L679.18 233.67 L680.28 233.69 L681.39 233.72 L682.49 233.75 L683.59 233.78 L684.70 233.80 L685.80 233.83 L686.90 233.86 L688.01 233.89 L689.11 233.92 L690.21 233.95 L691.31 233.98 L692.42 234.01 L693.52 234.04 L694.62 234.07 L695.73 234.10 L696.83 234.13 L697.93 234.16 L699.04 234.19 L700.14 234.22 L701.24 234.25 L702.35 234.28 L703.45 234.31 L704.55 234.34 L705.66 234.37 L706.76 234.40 L707.86 234.43 L708.97 234.45 L710.07 234.48 L711.17 234.51 L712.28 234.54 L713.38 234.56 L714.48 234.59 L715.58 234.61 L716.69 234.64 L717.79 234.66 L718.89 234.68 L720.00 234.71 L721.10 234.73 L722.20 234.75 L723.31 234.77 L724.41 234.79 L725.51 234.80 L726.62 234.82 L727.72 234.84 L728.82 234.85 L729.93 234.87 L731.03 234.88 L732.13 234.89 L733.24 234.90 L734.34 234.91 L735.44 234.92 L736.55 234.93 L737.65 234.93 L738.75 234.94 L739.86 234.94 L740.96 234.94 L742.06 234.94 L743.16 234.94 L744.27 234.93 L745.37 234.93 L746.47 234.92 L747.58 234.92 L748.68 234.91 L749.78 234.89 L750.89 234.88 L751.99 234.87 L753.09 234.85 L754.20 234.83 L755.30 234.81" fill="none" stroke="#00ffff" stroke-width="2.55" stroke-linejoin="round" stroke-dasharray="25.33 8.38 26.59 8.55 25.71 8.43 27.13 8.50 27.30 7.50 31.01 8.50 26.40 8.40 0.40 8.60 26.00 8.60 26.00 8.60 26.00 8.60" stroke-dashoffset="0" clip-path="url(#c3)"/>
<path d="M586.70 265.35 L587.47 264.90 L588.24 264.46 L589.01 264.02 L589.78 263.59 L590.55 263.15 L591.32 262.72 L592.09 262.30 L592.86 261.87 L593.63 261.45 L594.40 261.03 L595.17 260.61 L595.94 260.20 L596.71 259.79 L597.48 259.38 L598.25 258.97 L599.02 258.57 L599.79 258.16 L600.56 257.77 L601.33 257.37 L602.10 256.97 L602.87 256.58 L603.64 256.19 L604.41 255.81 L605.18 255.42 L605.95 255.04 L606.72 254.66 L607.49 254.29 L608.26 253.91 L609.03 253.54 L609.80 253.17 L610.57 252.80 L611.34 252.44 L612.11 252.08 L612.88 251.72 L613.65 251.36 L614.42 251.01 L615.18 250.65 L615.95 250.30 L616.72 249.96 L617.49 249.61 L618.26 249.27 L619.03 248.93 L619.80 248.59 L620.57 248.25 L621.34 247.92 L622.11 247.59 L622.88 247.26 L623.65 246.93 L624.42 246.60 L625.19 246.28 L625.96 245.96 L626.73 245.64 L627.50 245.33 L628.27 245.01 L629.04 244.70 L629.81 244.39 L630.58 244.08 L631.35 243.78 L632.12 243.48 L632.89 243.17 L633.66 242.88 L634.43 242.58 L635.20 242.28 L635.97 241.99 L636.74 241.70 L637.51 241.41 L638.28 241.13 L639.05 240.84 L639.82 240.56 L640.59 240.28 L641.36 240.00 L642.13 239.72 L642.90 239.45 L643.67 239.18 L644.44 238.91 L645.21 238.64 L645.98 238.37 L646.75 238.11 L647.52 237.85 L648.29 237.59 L649.06 237.33 L649.83 237.07 L650.60 236.82 L651.37 236.56 L652.14 236.31 L652.91 236.06 L653.68 235.82 L654.45 235.57 L655.22 235.33 L655.99 235.09 L656.76 234.85 L657.53 234.61 L658.30 234.37 L659.07 234.14 L659.84 233.91 L660.61 233.67 L661.38 233.45 L662.15 233.22 L662.92 232.99 L663.69 232.77 L664.46 232.55 L665.23 232.33 L666.00 232.11 L666.77 231.89 L667.54 231.68 L668.31 231.46 L669.08 231.25 L669.85 231.04 L670.62 230.83 L671.38 230.62 L672.15 230.42 L672.92 230.22 L673.69 230.01 L674.46 229.81 L675.23 229.61 L676.00 229.42 L676.77 229.22 L677.54 229.03 L678.31 228.83 L679.08 228.64 L679.85 228.45 L680.62 228.27 L681.39 228.08 L682.16 227.89 L682.93 227.71 L683.70 227.53 L684.47 227.35 L685.24 227.17 L686.01 226.99 L686.78 226.81 L687.55 226.64 L688.32 226.47 L689.09 226.29 L689.86 226.12 L690.63 225.95 L691.40 225.79 L692.17 225.62 L692.94 225.45 L693.71 225.29 L694.48 225.13 L695.25 224.97 L696.02 224.81 L696.79 224.65 L697.56 224.49 L698.33 224.34 L699.10 224.18 L699.87 224.03 L700.64 223.88 L701.41 223.73 L702.18 223.58 L702.95 223.43 L703.72 223.28 L704.49 223.14 L705.26 222.99 L706.03 222.85 L706.80 222.71 L707.57 222.56 L708.34 222.42 L709.11 222.29 L709.88 222.15 L710.65 222.01 L711.42 221.88 L712.19 221.74 L712.96 221.61 L713.73 221.48 L714.50 221.35 L715.27 221.22 L716.04 221.09 L716.81 220.96 L717.58 220.83 L718.35 220.71 L719.12 220.58 L719.89 220.46 L720.66 220.34 L721.43 220.22 L722.20 220.09 L722.97 219.97 L723.74 219.86 L724.51 219.74 L725.28 219.62 L726.05 219.51 L726.82 219.39 L727.58 219.28 L728.35 219.16 L729.12 219.05 L729.89 218.94 L730.66 218.83 L731.43 218.72 L732.20 218.61 L732.97 218.50 L733.74 218.40 L734.51 218.29 L735.28 218.19 L736.05 218.08 L736.82 217.98 L737.59 217.88 L738.36 217.77 L739.13 217.67 L739.90 217.57 L740.67 217.47 L741.44 217.37 L742.21 217.27 L742.98 217.18 L743.75 217.08 L744.52 216.98 L745.29 216.89 L746.06 216.79 L746.83 216.70 L747.60 216.60 L748.37 216.51 L749.14 216.42 L749.91 216.33 L750.68 216.24 L751.45 216.15 L752.22 216.06 L752.99 215.97 L753.76 215.88 L754.53 215.79 L755.30 215.70" fill="none" stroke="#228b22" stroke-width="2.55" stroke-linejoin="round" stroke-dasharray="11.3 7.6" stroke-dashoffset="0" clip-path="url(#c3)"/>
<path d="M639.20 266.42 L639.72 265.64 L640.23 264.86 L640.75 264.09 L641.26 263.32 L641.78 262.55 L642.29 261.78 L642.81 261.02 L643.32 260.26 L643.84 259.50 L644.36 258.75 L644.87 258.00 L645.39 257.25 L645.90 256.51 L646.42 255.76 L646.93 255.02 L647.45 254.29 L647.96 253.55 L648.48 252.82 L648.99 252.10 L649.51 251.37 L650.03 250.65 L650.54 249.93 L651.06 249.22 L651.57 248.50 L652.09 247.79 L652.60 247.08 L653.12 246.38 L653.63 245.68 L654.15 244.98 L654.67 244.28 L655.18 243.59 L655.70 242.90 L656.21 242.21 L656.73 241.52 L657.24 240.84 L657.76 240.16 L658.27 239.48 L658.79 238.81 L659.31 238.14 L659.82 237.47 L660.34 236.80 L660.85 236.14 L661.37 235.48 L661.88 234.82 L662.40 234.16 L662.91 233.51 L663.43 232.86 L663.95 232.21 L664.46 231.56 L664.98 230.92 L665.49 230.28 L666.01 229.64 L666.52 229.01 L667.04 228.37 L667.55 227.74 L668.07 227.11 L668.58 226.49 L669.10 225.87 L669.62 225.25 L670.13 224.63 L670.65 224.01 L671.16 223.40 L671.68 222.79 L672.19 222.18 L672.71 221.57 L673.22 220.97 L673.74 220.37 L674.26 219.77 L674.77 219.18 L675.29 218.58 L675.80 217.99 L676.32 217.40 L676.83 216.81 L677.35 216.23 L677.86 215.65 L678.38 215.07 L678.90 214.49 L679.41 213.92 L679.93 213.34 L680.44 212.77 L680.96 212.20 L681.47 211.64 L681.99 211.07 L682.50 210.51 L683.02 209.95 L683.54 209.40 L684.05 208.84 L684.57 208.29 L685.08 207.74 L685.60 207.19 L686.11 206.64 L686.63 206.10 L687.14 205.56 L687.66 205.02 L688.17 204.48 L688.69 203.94 L689.21 203.41 L689.72 202.88 L690.24 202.35 L690.75 201.82 L691.27 201.30 L691.78 200.77 L692.30 200.25 L692.81 199.73 L693.33 199.22 L693.85 198.70 L694.36 198.19 L694.88 197.68 L695.39 197.17 L695.91 196.66 L696.42 196.15 L696.94 195.65 L697.45 195.15 L697.97 194.65 L698.49 194.15 L699.00 193.66 L699.52 193.16 L700.03 192.67 L700.55 192.18 L701.06 191.69 L701.58 191.20 L702.09 190.72 L702.61 190.24 L703.13 189.75 L703.64 189.27 L704.16 188.80 L704.67 188.32 L705.19 187.84 L705.70 187.37 L706.22 186.90 L706.73 186.43 L707.25 185.96 L707.76 185.49 L708.28 185.03 L708.80 184.56 L709.31 184.10 L709.83 183.64 L710.34 183.18 L710.86 182.72 L711.37 182.26 L711.89 181.81 L712.40 181.35 L712.92 180.90 L713.44 180.45 L713.95 180.00 L714.47 179.55 L714.98 179.10 L715.50 178.66 L716.01 178.21 L716.53 177.77 L717.04 177.32 L717.56 176.88 L718.08 176.44 L718.59 176.00 L719.11 175.57 L719.62 175.13 L720.14 174.69 L720.65 174.26 L721.17 173.82 L721.68 173.39 L722.20 172.96 L722.72 172.53 L723.23 172.10 L723.75 171.67 L724.26 171.24 L724.78 170.82 L725.29 170.39 L725.81 169.97 L726.32 169.54 L726.84 169.12 L727.35 168.70 L727.87 168.28 L728.39 167.86 L728.90 167.44 L729.42 167.02 L729.93 166.60 L730.45 166.18 L730.96 165.77 L731.48 165.35 L731.99 164.93 L732.51 164.52 L733.03 164.11 L733.54 163.69 L734.06 163.28 L734.57 162.87 L735.09 162.46 L735.60 162.04 L736.12 161.63 L736.63 161.22 L737.15 160.81 L737.67 160.41 L738.18 160.00 L738.70 159.59 L739.21 159.18 L739.73 158.77 L740.24 158.37 L740.76 157.96 L741.27 157.55 L741.79 157.15 L742.31 156.74 L742.82 156.34 L743.34 155.93 L743.85 155.53 L744.37 155.12 L744.88 154.72 L745.40 154.32 L745.91 153.91 L746.43 153.51 L746.94 153.11 L747.46 152.70 L747.98 152.30 L748.49 151.90 L749.01 151.49 L749.52 151.09 L750.04 150.69 L750.55 150.29 L751.07 149.88 L751.58 149.48 L752.10 149.08" fill="none" stroke="#ff00ff" stroke-width="2.55" stroke-linejoin="round" stroke-dasharray="2.4 3.6" stroke-dashoffset="0" clip-path="url(#c3)"/>
<path d="M473.70 401.06 L474.99 401.98 L476.27 402.88 L477.56 403.76 L478.84 404.63 L480.13 405.49 L481.42 406.32 L482.70 407.15 L483.99 407.95 L485.27 408.74 L486.56 409.52 L487.84 410.28 L489.13 411.03 L490.42 411.76 L491.70 412.48 L492.99 413.19 L494.27 413.88 L495.56 414.56 L496.85 415.23 L498.13 415.88 L499.42 416.52 L500.70 417.15 L501.99 417.77 L503.27 418.37 L504.56 418.96 L505.85 419.55 L507.13 420.12 L508.42 420.68 L509.70 421.23 L510.99 421.76 L512.28 422.29 L513.56 422.81 L514.85 423.32 L516.13 423.82 L517.42 424.31 L518.70 424.79 L519.99 425.26 L521.28 425.73 L522.56 426.18 L523.85 426.63 L525.13 427.07 L526.42 427.50 L527.71 427.93 L528.99 428.35 L530.28 428.76 L531.56 429.16 L532.85 429.56 L534.13 429.95 L535.42 430.33 L536.71 430.71 L537.99 431.08 L539.28 431.45 L540.56 431.81 L541.85 432.16 L543.14 432.51 L544.42 432.85 L545.71 433.19 L546.99 433.52 L548.28 433.85 L549.56 434.18 L550.85 434.49 L552.14 434.81 L553.42 435.12 L554.71 435.42 L555.99 435.72 L557.28 436.02 L558.57 436.32 L559.85 436.61 L561.14 436.89 L562.42 437.18 L563.71 437.46 L564.99 437.74 L566.28 438.01 L567.57 438.28 L568.85 438.55 L570.14 438.82 L571.42 439.08 L572.71 439.35 L574.00 439.61 L575.28 439.87 L576.57 440.12 L577.85 440.38 L579.14 440.64 L580.43 440.89 L581.71 441.14 L583.00 441.39 L584.28 441.64 L585.57 441.89 L586.85 442.14 L588.14 442.39 L589.43 442.64 L590.71 442.89 L592.00 443.13 L593.28 443.38 L594.57 443.63 L595.86 443.87 L597.14 444.11 L598.43 444.36 L599.71 444.60 L601.00 444.84 L602.28 445.08 L603.57 445.32 L604.86 445.56 L606.14 445.80 L607.43 446.04 L608.71 446.27 L610.00 446.51 L611.29 446.74 L612.57 446.98 L613.86 447.21 L615.14 447.44 L616.43 447.68 L617.71 447.91 L619.00 448.14 L620.29 448.37 L621.57 448.60 L622.86 448.82 L624.14 449.05 L625.43 449.28 L626.72 449.50 L628.00 449.73 L629.29 449.95 L630.57 450.17 L631.86 450.40 L633.14 450.62 L634.43 450.84 L635.72 451.06 L637.00 451.28 L638.29 451.50 L639.57 451.71 L640.86 451.93 L642.15 452.14 L643.43 452.36 L644.72 452.57 L646.00 452.79 L647.29 453.00 L648.57 453.21 L649.86 453.42 L651.15 453.63 L652.43 453.84 L653.72 454.05 L655.00 454.25 L656.29 454.46 L657.58 454.66 L658.86 454.87 L660.15 455.07 L661.43 455.27 L662.72 455.48 L664.01 455.68 L665.29 455.88 L666.58 456.07 L667.86 456.27 L669.15 456.47 L670.43 456.67 L671.72 456.86 L673.01 457.06 L674.29 457.25 L675.58 457.44 L676.86 457.63 L678.15 457.82 L679.44 458.01 L680.72 458.20 L682.01 458.39 L683.29 458.58 L684.58 458.76 L685.86 458.95 L687.15 459.13 L688.44 459.32 L689.72 459.50 L691.01 459.68 L692.29 459.86 L693.58 460.04 L694.87 460.22 L696.15 460.40 L697.44 460.57 L698.72 460.75 L700.01 460.92 L701.29 461.10 L702.58 461.27 L703.87 461.44 L705.15 461.61 L706.44 461.78 L707.72 461.95 L709.01 462.12 L710.30 462.28 L711.58 462.45 L712.87 462.61 L714.15 462.78 L715.44 462.94 L716.72 463.10 L718.01 463.26 L719.30 463.42 L720.58 463.58 L721.87 463.74 L723.15 463.90 L724.44 464.05 L725.73 464.21 L727.01 464.36 L728.30 464.51 L729.58 464.66 L730.87 464.82 L732.15 464.96 L733.44 465.11 L734.73 465.26 L736.01 465.41 L737.30 465.55 L738.58 465.70 L739.87 465.84 L741.16 465.98 L742.44 466.12 L743.73 466.26 L745.01 466.40 L746.30 466.54 L747.58 466.68 L748.87 466.81 L750.16 466.95 L751.44 467.08 L752.73 467.21 L754.01 467.34 L755.30 467.48" fill="none" stroke="#a020f0" stroke-width="2.55" stroke-linejoin="round" clip-path="url(#c4)"/>
<path d="M495.40 488.08 L496.59 486.99 L497.77 485.93 L498.96 484.90 L500.15 483.90 L501.33 482.93 L502.52 481.99 L503.71 481.08 L504.89 480.19 L506.08 479.33 L507.27 478.50 L508.45 477.69 L509.64 476.91 L510.83 476.16 L512.01 475.43 L513.20 474.72 L514.39 474.04 L515.57 473.38 L516.76 472.75 L517.95 472.13 L519.14 471.54 L520.32 470.97 L521.51 470.42 L522.70 469.89 L523.88 469.38 L525.07 468.89 L526.26 468.41 L527.44 467.96 L528.63 467.52 L529.82 467.10 L531.00 466.70 L532.19 466.31 L533.38 465.94 L534.56 465.59 L535.75 465.25 L536.94 464.92 L538.12 464.61 L539.31 464.31 L540.50 464.03 L541.68 463.75 L542.87 463.49 L544.06 463.24 L545.24 463.00 L546.43 462.77 L547.62 462.56 L548.80 462.35 L549.99 462.15 L551.18 461.95 L552.36 461.77 L553.55 461.59 L554.74 461.42 L555.92 461.26 L557.11 461.10 L558.30 460.95 L559.48 460.80 L560.67 460.66 L561.86 460.52 L563.05 460.39 L564.23 460.26 L565.42 460.13 L566.61 460.00 L567.79 459.87 L568.98 459.75 L570.17 459.63 L571.35 459.52 L572.54 459.40 L573.73 459.29 L574.91 459.18 L576.10 459.07 L577.29 458.97 L578.47 458.87 L579.66 458.77 L580.85 458.67 L582.03 458.57 L583.22 458.48 L584.41 458.39 L585.59 458.30 L586.78 458.21 L587.97 458.13 L589.15 458.04 L590.34 457.96 L591.53 457.88 L592.71 457.81 L593.90 457.73 L595.09 457.66 L596.27 457.59 L597.46 457.52 L598.65 457.46 L599.83 457.39 L601.02 457.33 L602.21 457.27 L603.39 457.21 L604.58 457.15 L605.77 457.10 L606.96 457.04 L608.14 456.99 L609.33 456.94 L610.52 456.89 L611.70 456.85 L612.89 456.80 L614.08 456.76 L615.26 456.72 L616.45 456.68 L617.64 456.64 L618.82 456.60 L620.01 456.57 L621.20 456.53 L622.38 456.50 L623.57 456.47 L624.76 456.44 L625.94 456.42 L627.13 456.39 L628.32 456.36 L629.50 456.34 L630.69 456.32 L631.88 456.30 L633.06 456.28 L634.25 456.26 L635.44 456.24 L636.62 456.23 L637.81 456.22 L639.00 456.20 L640.18 456.19 L641.37 456.18 L642.56 456.17 L643.74 456.16 L644.93 456.15 L646.12 456.15 L647.31 456.14 L648.49 456.14 L649.68 456.14 L650.87 456.13 L652.05 456.13 L653.24 456.13 L654.43 456.13 L655.61 456.13 L656.80 456.14 L657.99 456.14 L659.17 456.15 L660.36 456.15 L661.55 456.16 L662.73 456.16 L663.92 456.17 L665.11 456.18 L666.29 456.19 L667.48 456.20 L668.67 456.21 L669.85 456.22 L671.04 456.23 L672.23 456.24 L673.41 456.25 L674.60 456.27 L675.79 456.28 L676.97 456.29 L678.16 456.31 L679.35 456.32 L680.53 456.34 L681.72 456.36 L682.91 456.37 L684.09 456.39 L685.28 456.41 L686.47 456.42 L687.65 456.44 L688.84 456.46 L690.03 456.48 L691.22 456.50 L692.40 456.52 L693.59 456.54 L694.78 456.56 L695.96 456.57 L697.15 456.59 L698.34 456.61 L699.52 456.63 L700.71 456.65 L701.90 456.67 L703.08 456.69 L704.27 456.71 L705.46 456.73 L706.64 456.75 L707.83 456.77 L709.02 456.79 L710.20 456.81 L711.39 456.83 L712.58 456.85 L713.76 456.87 L714.95 456.89 L716.14 456.91 L717.32 456.93 L718.51 456.95 L719.70 456.97 L720.88 456.98 L722.07 457.00 L723.26 457.02 L724.44 457.04 L725.63 457.05 L726.82 457.07 L728.00 457.08 L729.19 457.10 L730.38 457.11 L731.56 457.13 L732.75 457.14 L733.94 457.16 L735.13 457.17 L736.31 457.18 L737.50 457.19 L738.69 457.20 L739.87 457.21 L741.06 457.22 L742.25 457.23 L743.43 457.24 L744.62 457.25 L745.81 457.26 L746.99 457.26 L748.18 457.27 L749.37 457.27 L750.55 457.27 L751.74 457.28 L752.93 457.28 L754.11 457.28 L755.30 457.28" fill="none" stroke="#00ffff" stroke-width="2.55" stroke-linejoin="round" stroke-dasharray="26 8.6" stroke-dashoffset="0" clip-path="url(#c4)"/>
<path d="M558.50 488.61 L559.37 488.15 L560.24 487.69 L561.11 487.23 L561.98 486.78 L562.86 486.33 L563.73 485.88 L564.60 485.44 L565.47 485.01 L566.34 484.57 L567.21 484.14 L568.08 483.72 L568.95 483.29 L569.83 482.88 L570.70 482.46 L571.57 482.05 L572.44 481.64 L573.31 481.24 L574.18 480.84 L575.05 480.44 L575.92 480.05 L576.80 479.66 L577.67 479.27 L578.54 478.89 L579.41 478.51 L580.28 478.14 L581.15 477.76 L582.02 477.39 L582.89 477.03 L583.77 476.67 L584.64 476.31 L585.51 475.95 L586.38 475.60 L587.25 475.25 L588.12 474.91 L588.99 474.56 L589.86 474.23 L590.74 473.89 L591.61 473.56 L592.48 473.23 L593.35 472.90 L594.22 472.58 L595.09 472.26 L595.96 471.94 L596.83 471.63 L597.71 471.32 L598.58 471.01 L599.45 470.71 L600.32 470.40 L601.19 470.10 L602.06 469.81 L602.93 469.52 L603.80 469.23 L604.68 468.94 L605.55 468.66 L606.42 468.37 L607.29 468.10 L608.16 467.82 L609.03 467.55 L609.90 467.28 L610.77 467.01 L611.65 466.75 L612.52 466.48 L613.39 466.22 L614.26 465.97 L615.13 465.71 L616.00 465.46 L616.87 465.21 L617.74 464.97 L618.62 464.72 L619.49 464.48 L620.36 464.25 L621.23 464.01 L622.10 463.78 L622.97 463.55 L623.84 463.32 L624.71 463.09 L625.58 462.87 L626.46 462.65 L627.33 462.43 L628.20 462.21 L629.07 462.00 L629.94 461.79 L630.81 461.58 L631.68 461.37 L632.55 461.16 L633.43 460.96 L634.30 460.76 L635.17 460.56 L636.04 460.37 L636.91 460.17 L637.78 459.98 L638.65 459.79 L639.52 459.60 L640.40 459.42 L641.27 459.23 L642.14 459.05 L643.01 458.87 L643.88 458.70 L644.75 458.52 L645.62 458.35 L646.49 458.18 L647.37 458.01 L648.24 457.84 L649.11 457.67 L649.98 457.51 L650.85 457.35 L651.72 457.19 L652.59 457.03 L653.46 456.87 L654.34 456.72 L655.21 456.56 L656.08 456.41 L656.95 456.26 L657.82 456.11 L658.69 455.97 L659.56 455.82 L660.43 455.68 L661.31 455.54 L662.18 455.39 L663.05 455.26 L663.92 455.12 L664.79 454.98 L665.66 454.85 L666.53 454.72 L667.40 454.59 L668.28 454.46 L669.15 454.33 L670.02 454.20 L670.89 454.07 L671.76 453.95 L672.63 453.83 L673.50 453.71 L674.37 453.59 L675.25 453.47 L676.12 453.35 L676.99 453.23 L677.86 453.12 L678.73 453.00 L679.60 452.89 L680.47 452.78 L681.34 452.67 L682.22 452.56 L683.09 452.45 L683.96 452.34 L684.83 452.24 L685.70 452.13 L686.57 452.03 L687.44 451.92 L688.31 451.82 L689.18 451.72 L690.06 451.62 L690.93 451.52 L691.80 451.42 L692.67 451.32 L693.54 451.23 L694.41 451.13 L695.28 451.03 L696.15 450.94 L697.03 450.85 L697.90 450.75 L698.77 450.66 L699.64 450.57 L700.51 450.48 L701.38 450.39 L702.25 450.30 L703.12 450.21 L704.00 450.12 L704.87 450.03 L705.74 449.95 L706.61 449.86 L707.48 449.77 L708.35 449.69 L709.22 449.60 L710.09 449.52 L710.97 449.43 L711.84 449.35 L712.71 449.27 L713.58 449.18 L714.45 449.10 L715.32 449.02 L716.19 448.94 L717.06 448.86 L717.94 448.77 L718.81 448.69 L719.68 448.61 L720.55 448.53 L721.42 448.45 L722.29 448.37 L723.16 448.29 L724.03 448.21 L724.91 448.13 L725.78 448.05 L726.65 447.97 L727.52 447.89 L728.39 447.81 L729.26 447.73 L730.13 447.66 L731.00 447.58 L731.88 447.50 L732.75 447.42 L733.62 447.34 L734.49 447.26 L735.36 447.18 L736.23 447.10 L737.10 447.02 L737.97 446.94 L738.85 446.86 L739.72 446.78 L740.59 446.70 L741.46 446.62 L742.33 446.53 L743.20 446.45 L744.07 446.37 L744.94 446.29 L745.82 446.21 L746.69 446.12 L747.56 446.04 L748.43 445.95 L749.30 445.87" fill="none" stroke="#228b22" stroke-width="2.55" stroke-linejoin="round" stroke-dasharray="11.3 7.6" stroke-dashoffset="0" clip-path="url(#c4)"/>
<path d="M624.10 489.46 L624.68 488.87 L625.26 488.29 L625.84 487.71 L626.42 487.13 L627.00 486.55 L627.58 485.98 L628.16 485.41 L628.74 484.85 L629.32 484.28 L629.90 483.72 L630.48 483.16 L631.06 482.61 L631.64 482.05 L632.23 481.51 L632.81 480.96 L633.39 480.41 L633.97 479.87 L634.55 479.33 L635.13 478.80 L635.71 478.27 L636.29 477.74 L636.87 477.21 L637.45 476.68 L638.03 476.16 L638.61 475.64 L639.19 475.12 L639.77 474.61 L640.35 474.10 L640.93 473.59 L641.51 473.08 L642.09 472.58 L642.67 472.08 L643.25 471.58 L643.83 471.08 L644.41 470.59 L644.99 470.10 L645.57 469.61 L646.15 469.12 L646.73 468.64 L647.31 468.16 L647.89 467.68 L648.48 467.20 L649.06 466.73 L649.64 466.26 L650.22 465.79 L650.80 465.32 L651.38 464.85 L651.96 464.39 L652.54 463.93 L653.12 463.47 L653.70 463.02 L654.28 462.56 L654.86 462.11 L655.44 461.66 L656.02 461.22 L656.60 460.77 L657.18 460.33 L657.76 459.89 L658.34 459.45 L658.92 459.02 L659.50 458.58 L660.08 458.15 L660.66 457.72 L661.24 457.29 L661.82 456.87 L662.40 456.44 L662.98 456.02 L663.56 455.60 L664.15 455.19 L664.73 454.77 L665.31 454.36 L665.89 453.95 L666.47 453.54 L667.05 453.13 L667.63 452.72 L668.21 452.32 L668.79 451.92 L669.37 451.52 L669.95 451.12 L670.53 450.72 L671.11 450.33 L671.69 449.94 L672.27 449.55 L672.85 449.16 L673.43 448.77 L674.01 448.39 L674.59 448.00 L675.17 447.62 L675.75 447.24 L676.33 446.86 L676.91 446.48 L677.49 446.11 L678.07 445.74 L678.65 445.36 L679.23 444.99 L679.82 444.62 L680.40 444.26 L680.98 443.89 L681.56 443.53 L682.14 443.16 L682.72 442.80 L683.30 442.44 L683.88 442.09 L684.46 441.73 L685.04 441.38 L685.62 441.02 L686.20 440.67 L686.78 440.32 L687.36 439.97 L687.94 439.62 L688.52 439.28 L689.10 438.93 L689.68 438.59 L690.26 438.24 L690.84 437.90 L691.42 437.56 L692.00 437.23 L692.58 436.89 L693.16 436.55 L693.74 436.22 L694.32 435.88 L694.90 435.55 L695.48 435.22 L696.07 434.89 L696.65 434.56 L697.23 434.23 L697.81 433.91 L698.39 433.58 L698.97 433.26 L699.55 432.94 L700.13 432.61 L700.71 432.29 L701.29 431.97 L701.87 431.66 L702.45 431.34 L703.03 431.02 L703.61 430.71 L704.19 430.39 L704.77 430.08 L705.35 429.76 L705.93 429.45 L706.51 429.14 L707.09 428.83 L707.67 428.52 L708.25 428.21 L708.83 427.91 L709.41 427.60 L709.99 427.29 L710.57 426.99 L711.15 426.69 L711.74 426.38 L712.32 426.08 L712.90 425.78 L713.48 425.48 L714.06 425.18 L714.64 424.88 L715.22 424.58 L715.80 424.28 L716.38 423.98 L716.96 423.69 L717.54 423.39 L718.12 423.09 L718.70 422.80 L719.28 422.50 L719.86 422.21 L720.44 421.92 L721.02 421.63 L721.60 421.33 L722.18 421.04 L722.76 420.75 L723.34 420.46 L723.92 420.17 L724.50 419.88 L725.08 419.59 L725.66 419.30 L726.24 419.01 L726.82 418.73 L727.41 418.44 L727.99 418.15 L728.57 417.86 L729.15 417.58 L729.73 417.29 L730.31 417.01 L730.89 416.72 L731.47 416.44 L732.05 416.15 L732.63 415.87 L733.21 415.58 L733.79 415.30 L734.37 415.01 L734.95 414.73 L735.53 414.45 L736.11 414.16 L736.69 413.88 L737.27 413.60 L737.85 413.31 L738.43 413.03 L739.01 412.75 L739.59 412.46 L740.17 412.18 L740.75 411.90 L741.33 411.62 L741.91 411.33 L742.49 411.05 L743.07 410.77 L743.66 410.49 L744.24 410.20 L744.82 409.92 L745.40 409.64 L745.98 409.36 L746.56 409.07 L747.14 408.79 L747.72 408.51 L748.30 408.22 L748.88 407.94 L749.46 407.66 L750.04 407.37 L750.62 407.09 L751.20 406.80" fill="none" stroke="#ff00ff" stroke-width="2.55" stroke-linejoin="round" stroke-dasharray="2.4 3.6" stroke-dashoffset="0" clip-path="url(#c4)"/>
<path d="M473.70 593.41 L474.99 591.95 L476.27 590.54 L477.56 589.17 L478.84 587.85 L480.13 586.58 L481.42 585.34 L482.70 584.15 L483.99 582.99 L485.27 581.88 L486.56 580.80 L487.84 579.76 L489.13 578.75 L490.42 577.78 L491.70 576.84 L492.99 575.94 L494.27 575.07 L495.56 574.22 L496.85 573.41 L498.13 572.62 L499.42 571.86 L500.70 571.13 L501.99 570.42 L503.27 569.73 L504.56 569.07 L505.85 568.42 L507.13 567.80 L508.42 567.20 L509.70 566.61 L510.99 566.05 L512.28 565.50 L513.56 564.96 L514.85 564.44 L516.13 563.92 L517.42 563.43 L518.70 562.94 L519.99 562.46 L521.28 561.99 L522.56 561.52 L523.85 561.06 L525.13 560.61 L526.42 560.16 L527.71 559.71 L528.99 559.27 L530.28 558.83 L531.56 558.39 L532.85 557.96 L534.13 557.52 L535.42 557.09 L536.71 556.66 L537.99 556.24 L539.28 555.81 L540.56 555.39 L541.85 554.97 L543.14 554.56 L544.42 554.14 L545.71 553.73 L546.99 553.32 L548.28 552.92 L549.56 552.51 L550.85 552.11 L552.14 551.71 L553.42 551.31 L554.71 550.92 L555.99 550.52 L557.28 550.13 L558.57 549.74 L559.85 549.35 L561.14 548.97 L562.42 548.58 L563.71 548.20 L564.99 547.82 L566.28 547.45 L567.57 547.07 L568.85 546.70 L570.14 546.33 L571.42 545.96 L572.71 545.59 L574.00 545.22 L575.28 544.86 L576.57 544.49 L577.85 544.13 L579.14 543.77 L580.43 543.41 L581.71 543.06 L583.00 542.70 L584.28 542.35 L585.57 542.00 L586.85 541.65 L588.14 541.30 L589.43 540.95 L590.71 540.61 L592.00 540.26 L593.28 539.92 L594.57 539.58 L595.86 539.24 L597.14 538.91 L598.43 538.57 L599.71 538.24 L601.00 537.90 L602.28 537.57 L603.57 537.24 L604.86 536.91 L606.14 536.59 L607.43 536.26 L608.71 535.94 L610.00 535.62 L611.29 535.30 L612.57 534.98 L613.86 534.66 L615.14 534.35 L616.43 534.03 L617.71 533.72 L619.00 533.41 L620.29 533.10 L621.57 532.79 L622.86 532.49 L624.14 532.18 L625.43 531.88 L626.72 531.58 L628.00 531.28 L629.29 530.98 L630.57 530.68 L631.86 530.39 L633.14 530.09 L634.43 529.80 L635.72 529.51 L637.00 529.22 L638.29 528.93 L639.57 528.65 L640.86 528.36 L642.15 528.08 L643.43 527.80 L644.72 527.52 L646.00 527.24 L647.29 526.96 L648.57 526.69 L649.86 526.42 L651.15 526.14 L652.43 525.87 L653.72 525.60 L655.00 525.34 L656.29 525.07 L657.58 524.80 L658.86 524.54 L660.15 524.28 L661.43 524.02 L662.72 523.76 L664.01 523.50 L665.29 523.25 L666.58 522.99 L667.86 522.74 L669.15 522.49 L670.43 522.24 L671.72 521.99 L673.01 521.75 L674.29 521.50 L675.58 521.26 L676.86 521.02 L678.15 520.78 L679.44 520.54 L680.72 520.30 L682.01 520.06 L683.29 519.83 L684.58 519.60 L685.86 519.37 L687.15 519.14 L688.44 518.91 L689.72 518.68 L691.01 518.46 L692.29 518.23 L693.58 518.01 L694.87 517.79 L696.15 517.57 L697.44 517.35 L698.72 517.13 L700.01 516.92 L701.29 516.71 L702.58 516.49 L703.87 516.28 L705.15 516.07 L706.44 515.87 L707.72 515.66 L709.01 515.46 L710.30 515.25 L711.58 515.05 L712.87 514.85 L714.15 514.65 L715.44 514.46 L716.72 514.26 L718.01 514.07 L719.30 513.87 L720.58 513.68 L721.87 513.49 L723.15 513.30 L724.44 513.12 L725.73 512.93 L727.01 512.75 L728.30 512.56 L729.58 512.38 L730.87 512.20 L732.15 512.03 L733.44 511.85 L734.73 511.67 L736.01 511.50 L737.30 511.33 L738.58 511.16 L739.87 510.99 L741.16 510.82 L742.44 510.65 L743.73 510.49 L745.01 510.32 L746.30 510.16 L747.58 510.00 L748.87 509.84 L750.16 509.68 L751.44 509.53 L752.73 509.37 L754.01 509.22 L755.30 509.07" fill="none" stroke="#a020f0" stroke-width="2.55" stroke-linejoin="round" clip-path="url(#c5)"/>
<path d="M500.30 489.68 L501.46 490.62 L502.63 491.54 L503.79 492.45 L504.96 493.33 L506.12 494.19 L507.29 495.02 L508.45 495.84 L509.62 496.65 L510.78 497.43 L511.94 498.19 L513.11 498.93 L514.27 499.66 L515.44 500.37 L516.60 501.06 L517.77 501.73 L518.93 502.38 L520.09 503.02 L521.26 503.64 L522.42 504.25 L523.59 504.84 L524.75 505.41 L525.92 505.97 L527.08 506.51 L528.25 507.04 L529.41 507.55 L530.57 508.05 L531.74 508.54 L532.90 509.01 L534.07 509.46 L535.23 509.91 L536.40 510.34 L537.56 510.76 L538.72 511.16 L539.89 511.56 L541.05 511.94 L542.22 512.31 L543.38 512.67 L544.55 513.01 L545.71 513.35 L546.88 513.68 L548.04 513.99 L549.20 514.30 L550.37 514.60 L551.53 514.88 L552.70 515.16 L553.86 515.43 L555.03 515.69 L556.19 515.94 L557.35 516.19 L558.52 516.42 L559.68 516.65 L560.85 516.88 L562.01 517.09 L563.18 517.30 L564.34 517.50 L565.51 517.70 L566.67 517.89 L567.83 518.08 L569.00 518.26 L570.16 518.43 L571.33 518.60 L572.49 518.77 L573.66 518.93 L574.82 519.09 L575.98 519.24 L577.15 519.39 L578.31 519.54 L579.48 519.68 L580.64 519.82 L581.81 519.96 L582.97 520.09 L584.14 520.22 L585.30 520.35 L586.46 520.47 L587.63 520.59 L588.79 520.70 L589.96 520.82 L591.12 520.92 L592.29 521.03 L593.45 521.13 L594.62 521.23 L595.78 521.33 L596.94 521.42 L598.11 521.51 L599.27 521.60 L600.44 521.68 L601.60 521.76 L602.77 521.84 L603.93 521.92 L605.09 521.99 L606.26 522.06 L607.42 522.13 L608.59 522.19 L609.75 522.25 L610.92 522.31 L612.08 522.37 L613.25 522.42 L614.41 522.47 L615.57 522.52 L616.74 522.57 L617.90 522.61 L619.07 522.66 L620.23 522.70 L621.40 522.73 L622.56 522.77 L623.72 522.80 L624.89 522.83 L626.05 522.86 L627.22 522.89 L628.38 522.91 L629.55 522.93 L630.71 522.96 L631.88 522.97 L633.04 522.99 L634.20 523.01 L635.37 523.02 L636.53 523.03 L637.70 523.04 L638.86 523.05 L640.03 523.05 L641.19 523.06 L642.35 523.06 L643.52 523.06 L644.68 523.06 L645.85 523.06 L647.01 523.06 L648.18 523.05 L649.34 523.05 L650.51 523.04 L651.67 523.03 L652.83 523.03 L654.00 523.01 L655.16 523.00 L656.33 522.99 L657.49 522.98 L658.66 522.96 L659.82 522.95 L660.98 522.93 L662.15 522.91 L663.31 522.89 L664.48 522.87 L665.64 522.85 L666.81 522.83 L667.97 522.81 L669.14 522.79 L670.30 522.76 L671.46 522.74 L672.63 522.72 L673.79 522.69 L674.96 522.67 L676.12 522.64 L677.29 522.62 L678.45 522.59 L679.62 522.56 L680.78 522.53 L681.94 522.51 L683.11 522.48 L684.27 522.45 L685.44 522.42 L686.60 522.40 L687.77 522.37 L688.93 522.34 L690.09 522.31 L691.26 522.28 L692.42 522.26 L693.59 522.23 L694.75 522.20 L695.92 522.17 L697.08 522.15 L698.25 522.12 L699.41 522.09 L700.57 522.07 L701.74 522.04 L702.90 522.01 L704.07 521.99 L705.23 521.97 L706.40 521.94 L707.56 521.92 L708.72 521.90 L709.89 521.87 L711.05 521.85 L712.22 521.83 L713.38 521.81 L714.55 521.79 L715.71 521.78 L716.88 521.76 L718.04 521.74 L719.20 521.73 L720.37 521.71 L721.53 521.70 L722.70 521.69 L723.86 521.68 L725.03 521.67 L726.19 521.66 L727.35 521.65 L728.52 521.65 L729.68 521.64 L730.85 521.64 L732.01 521.64 L733.18 521.64 L734.34 521.64 L735.51 521.64 L736.67 521.64 L737.83 521.65 L739.00 521.66 L740.16 521.67 L741.33 521.68 L742.49 521.69 L743.66 521.70 L744.82 521.72 L745.98 521.74 L747.15 521.76 L748.31 521.78 L749.48 521.80 L750.64 521.83 L751.81 521.86 L752.97 521.89 L754.14 521.92 L755.30 521.95" fill="none" stroke="#00ffff" stroke-width="2.55" stroke-linejoin="round" stroke-dasharray="27.75 7.82 40.04 7.47 27.03 8.01 26.71 8.50 25.40 9.00 25.81 8.50 26.40 7.50 6.00 8.60 26.00 8.60 26.00 8.60 26.00 8.60" stroke-dashoffset="0" clip-path="url(#c5)"/>
<path d="M567.50 488.61 L568.36 489.10 L569.22 489.58 L570.07 490.06 L570.93 490.54 L571.79 491.01 L572.65 491.48 L573.50 491.95 L574.36 492.41 L575.22 492.87 L576.08 493.32 L576.93 493.77 L577.79 494.22 L578.65 494.66 L579.51 495.10 L580.36 495.53 L581.22 495.97 L582.08 496.39 L582.94 496.82 L583.79 497.24 L584.65 497.66 L585.51 498.07 L586.37 498.48 L587.22 498.89 L588.08 499.29 L588.94 499.69 L589.80 500.09 L590.65 500.48 L591.51 500.87 L592.37 501.26 L593.23 501.64 L594.08 502.02 L594.94 502.40 L595.80 502.77 L596.66 503.14 L597.51 503.51 L598.37 503.87 L599.23 504.23 L600.09 504.59 L600.94 504.94 L601.80 505.29 L602.66 505.64 L603.52 505.99 L604.37 506.33 L605.23 506.66 L606.09 507.00 L606.95 507.33 L607.80 507.66 L608.66 507.99 L609.52 508.31 L610.38 508.63 L611.23 508.95 L612.09 509.26 L612.95 509.57 L613.81 509.88 L614.66 510.19 L615.52 510.49 L616.38 510.79 L617.24 511.09 L618.09 511.38 L618.95 511.67 L619.81 511.96 L620.67 512.25 L621.52 512.53 L622.38 512.81 L623.24 513.09 L624.10 513.37 L624.95 513.64 L625.81 513.91 L626.67 514.18 L627.53 514.44 L628.38 514.70 L629.24 514.96 L630.10 515.22 L630.96 515.48 L631.82 515.73 L632.67 515.98 L633.53 516.23 L634.39 516.47 L635.25 516.72 L636.10 516.96 L636.96 517.19 L637.82 517.43 L638.68 517.66 L639.53 517.90 L640.39 518.12 L641.25 518.35 L642.11 518.58 L642.96 518.80 L643.82 519.02 L644.68 519.24 L645.54 519.45 L646.39 519.67 L647.25 519.88 L648.11 520.09 L648.97 520.29 L649.82 520.50 L650.68 520.70 L651.54 520.90 L652.40 521.10 L653.25 521.30 L654.11 521.50 L654.97 521.69 L655.83 521.88 L656.68 522.07 L657.54 522.26 L658.40 522.45 L659.26 522.63 L660.11 522.81 L660.97 522.99 L661.83 523.17 L662.69 523.35 L663.54 523.52 L664.40 523.70 L665.26 523.87 L666.12 524.04 L666.97 524.21 L667.83 524.37 L668.69 524.54 L669.55 524.70 L670.40 524.87 L671.26 525.03 L672.12 525.19 L672.98 525.34 L673.83 525.50 L674.69 525.65 L675.55 525.81 L676.41 525.96 L677.26 526.11 L678.12 526.26 L678.98 526.40 L679.84 526.55 L680.69 526.70 L681.55 526.84 L682.41 526.98 L683.27 527.12 L684.12 527.26 L684.98 527.40 L685.84 527.54 L686.70 527.67 L687.55 527.81 L688.41 527.94 L689.27 528.07 L690.13 528.21 L690.98 528.34 L691.84 528.47 L692.70 528.59 L693.56 528.72 L694.42 528.85 L695.27 528.97 L696.13 529.10 L696.99 529.22 L697.85 529.34 L698.70 529.46 L699.56 529.58 L700.42 529.70 L701.28 529.82 L702.13 529.94 L702.99 530.06 L703.85 530.17 L704.71 530.29 L705.56 530.40 L706.42 530.52 L707.28 530.63 L708.14 530.74 L708.99 530.85 L709.85 530.97 L710.71 531.08 L711.57 531.19 L712.42 531.29 L713.28 531.40 L714.14 531.51 L715.00 531.62 L715.85 531.73 L716.71 531.83 L717.57 531.94 L718.43 532.04 L719.28 532.15 L720.14 532.25 L721.00 532.36 L721.86 532.46 L722.71 532.57 L723.57 532.67 L724.43 532.77 L725.29 532.87 L726.14 532.98 L727.00 533.08 L727.86 533.18 L728.72 533.28 L729.57 533.38 L730.43 533.49 L731.29 533.59 L732.15 533.69 L733.00 533.79 L733.86 533.89 L734.72 533.99 L735.58 534.09 L736.43 534.19 L737.29 534.29 L738.15 534.39 L739.01 534.49 L739.86 534.59 L740.72 534.69 L741.58 534.79 L742.44 534.89 L743.29 534.99 L744.15 535.09 L745.01 535.20 L745.87 535.30 L746.72 535.40 L747.58 535.50 L748.44 535.60 L749.30 535.70 L750.15 535.81 L751.01 535.91 L751.87 536.01 L752.73 536.11 L753.58 536.22 L754.44 536.32 L755.30 536.43" fill="none" stroke="#228b22" stroke-width="2.55" stroke-linejoin="round" stroke-dasharray="11.3 7.6" stroke-dashoffset="0" clip-path="url(#c5)"/>
<path d="M629.80 488.29 L630.36 488.92 L630.93 489.54 L631.49 490.17 L632.05 490.79 L632.61 491.41 L633.18 492.03 L633.74 492.65 L634.30 493.26 L634.86 493.88 L635.43 494.49 L635.99 495.10 L636.55 495.71 L637.11 496.32 L637.68 496.92 L638.24 497.53 L638.80 498.13 L639.36 498.73 L639.93 499.33 L640.49 499.92 L641.05 500.52 L641.61 501.11 L642.18 501.71 L642.74 502.30 L643.30 502.88 L643.86 503.47 L644.43 504.06 L644.99 504.64 L645.55 505.22 L646.11 505.80 L646.68 506.38 L647.24 506.95 L647.80 507.53 L648.36 508.10 L648.93 508.67 L649.49 509.24 L650.05 509.81 L650.61 510.37 L651.18 510.93 L651.74 511.50 L652.30 512.06 L652.86 512.61 L653.43 513.17 L653.99 513.72 L654.55 514.28 L655.12 514.83 L655.68 515.37 L656.24 515.92 L656.80 516.47 L657.37 517.01 L657.93 517.55 L658.49 518.09 L659.05 518.63 L659.62 519.16 L660.18 519.69 L660.74 520.22 L661.30 520.75 L661.87 521.28 L662.43 521.81 L662.99 522.33 L663.55 522.85 L664.12 523.37 L664.68 523.89 L665.24 524.41 L665.80 524.92 L666.37 525.43 L666.93 525.94 L667.49 526.45 L668.05 526.95 L668.62 527.46 L669.18 527.96 L669.74 528.46 L670.30 528.96 L670.87 529.45 L671.43 529.95 L671.99 530.44 L672.55 530.93 L673.12 531.42 L673.68 531.90 L674.24 532.38 L674.80 532.87 L675.37 533.35 L675.93 533.82 L676.49 534.30 L677.05 534.77 L677.62 535.24 L678.18 535.71 L678.74 536.18 L679.31 536.64 L679.87 537.10 L680.43 537.57 L680.99 538.02 L681.56 538.48 L682.12 538.93 L682.68 539.39 L683.24 539.84 L683.81 540.28 L684.37 540.73 L684.93 541.17 L685.49 541.61 L686.06 542.05 L686.62 542.49 L687.18 542.92 L687.74 543.36 L688.31 543.79 L688.87 544.21 L689.43 544.64 L689.99 545.06 L690.56 545.48 L691.12 545.90 L691.68 546.32 L692.24 546.73 L692.81 547.15 L693.37 547.56 L693.93 547.97 L694.49 548.37 L695.06 548.77 L695.62 549.18 L696.18 549.57 L696.74 549.97 L697.31 550.37 L697.87 550.76 L698.43 551.15 L698.99 551.54 L699.56 551.92 L700.12 552.31 L700.68 552.69 L701.24 553.07 L701.81 553.45 L702.37 553.83 L702.93 554.21 L703.49 554.58 L704.06 554.95 L704.62 555.32 L705.18 555.69 L705.75 556.06 L706.31 556.43 L706.87 556.80 L707.43 557.16 L708.00 557.52 L708.56 557.89 L709.12 558.25 L709.68 558.61 L710.25 558.96 L710.81 559.32 L711.37 559.68 L711.93 560.03 L712.50 560.39 L713.06 560.74 L713.62 561.09 L714.18 561.45 L714.75 561.80 L715.31 562.15 L715.87 562.50 L716.43 562.85 L717.00 563.20 L717.56 563.54 L718.12 563.89 L718.68 564.24 L719.25 564.59 L719.81 564.93 L720.37 565.28 L720.93 565.63 L721.50 565.97 L722.06 566.32 L722.62 566.66 L723.18 567.01 L723.75 567.35 L724.31 567.70 L724.87 568.05 L725.43 568.39 L726.00 568.74 L726.56 569.08 L727.12 569.43 L727.68 569.78 L728.25 570.12 L728.81 570.47 L729.37 570.82 L729.94 571.17 L730.50 571.52 L731.06 571.87 L731.62 572.21 L732.19 572.57 L732.75 572.92 L733.31 573.27 L733.87 573.62 L734.44 573.97 L735.00 574.33 L735.56 574.68 L736.12 575.04 L736.69 575.40 L737.25 575.76 L737.81 576.12 L738.37 576.48 L738.94 576.84 L739.50 577.20 L740.06 577.56 L740.62 577.93 L741.19 578.30 L741.75 578.66 L742.31 579.03 L742.87 579.40 L743.44 579.78 L744.00 580.15 L744.56 580.53 L745.12 580.90 L745.69 581.28 L746.25 581.66 L746.81 582.05 L747.37 582.43 L747.94 582.82 L748.50 583.21 L749.06 583.60 L749.62 583.99 L750.19 584.38 L750.75 584.78 L751.31 585.18 L751.87 585.58 L752.44 585.98 L753.00 586.39" fill="none" stroke="#ff00ff" stroke-width="2.55" stroke-linejoin="round" stroke-dasharray="2.4 3.6" stroke-dashoffset="0" clip-path="url(#c5)"/>
<path d="M86.90 378.74 L87.47 378.72 L88.04 378.70 L88.61 378.68 L89.18 378.66 L89.76 378.65 L90.33 378.65 L90.90 378.64 L91.47 378.64 L92.04 378.65 L92.61 378.65 L93.18 378.66 L93.75 378.68 L94.33 378.69 L94.90 378.71 L95.47 378.74 L96.04 378.76 L96.61 378.79 L97.18 378.82 L97.75 378.86 L98.32 378.90 L98.90 378.94 L99.47 378.99 L100.04 379.04 L100.61 379.09 L101.18 379.14 L101.75 379.20 L102.32 379.26 L102.89 379.32 L103.47 379.39 L104.04 379.45 L104.61 379.52 L105.18 379.60 L105.75 379.67 L106.32 379.75 L106.89 379.84 L107.46 379.92 L108.04 380.01 L108.61 380.10 L109.18 380.19 L109.75 380.28 L110.32 380.38 L110.89 380.48 L111.46 380.58 L112.03 380.68 L112.61 380.79 L113.18 380.90 L113.75 381.01 L114.32 381.12 L114.89 381.24 L115.46 381.35 L116.03 381.47 L116.60 381.60 L117.18 381.72 L117.75 381.84 L118.32 381.97 L118.89 382.10 L119.46 382.23 L120.03 382.37 L120.60 382.50 L121.17 382.64 L121.75 382.78 L122.32 382.92 L122.89 383.06 L123.46 383.21 L124.03 383.35 L124.60 383.50 L125.17 383.65 L125.74 383.80 L126.32 383.95 L126.89 384.10 L127.46 384.26 L128.03 384.42 L128.60 384.57 L129.17 384.73 L129.74 384.89 L130.31 385.06 L130.88 385.22 L131.46 385.38 L132.03 385.55 L132.60 385.72 L133.17 385.89 L133.74 386.06 L134.31 386.23 L134.88 386.40 L135.45 386.57 L136.03 386.75 L136.60 386.92 L137.17 387.10 L137.74 387.27 L138.31 387.45 L138.88 387.63 L139.45 387.81 L140.02 387.99 L140.60 388.17 L141.17 388.35 L141.74 388.53 L142.31 388.72 L142.88 388.90 L143.45 389.08 L144.02 389.27 L144.59 389.45 L145.17 389.64 L145.74 389.83 L146.31 390.02 L146.88 390.20 L147.45 390.39 L148.02 390.58 L148.59 390.77 L149.16 390.96 L149.74 391.15 L150.31 391.34 L150.88 391.54 L151.45 391.73 L152.02 391.92 L152.59 392.11 L153.16 392.31 L153.73 392.50 L154.31 392.70 L154.88 392.89 L155.45 393.09 L156.02 393.28 L156.59 393.48 L157.16 393.68 L157.73 393.87 L158.30 394.07 L158.88 394.27 L159.45 394.47 L160.02 394.67 L160.59 394.86 L161.16 395.06 L161.73 395.26 L162.30 395.46 L162.87 395.66 L163.45 395.86 L164.02 396.06 L164.59 396.26 L165.16 396.46 L165.73 396.67 L166.30 396.87 L166.87 397.07 L167.44 397.27 L168.02 397.47 L168.59 397.67 L169.16 397.88 L169.73 398.08 L170.30 398.28 L170.87 398.48 L171.44 398.69 L172.01 398.89 L172.58 399.09 L173.16 399.29 L173.73 399.50 L174.30 399.70 L174.87 399.90 L175.44 400.10 L176.01 400.31 L176.58 400.51 L177.15 400.71 L177.73 400.92 L178.30 401.12 L178.87 401.32 L179.44 401.52 L180.01 401.73 L180.58 401.93 L181.15 402.13 L181.72 402.33 L182.30 402.53 L182.87 402.74 L183.44 402.94 L184.01 403.14 L184.58 403.34 L185.15 403.54 L185.72 403.74 L186.29 403.94 L186.87 404.14 L187.44 404.34 L188.01 404.54 L188.58 404.74 L189.15 404.94 L189.72 405.14 L190.29 405.34 L190.86 405.54 L191.44 405.74 L192.01 405.94 L192.58 406.13 L193.15 406.33 L193.72 406.53 L194.29 406.72 L194.86 406.92 L195.43 407.12 L196.01 407.31 L196.58 407.51 L197.15 407.70 L197.72 407.90 L198.29 408.09 L198.86 408.28 L199.43 408.47 L200.00 408.67 L200.58 408.86 L201.15 409.05 L201.72 409.24 L202.29 409.43 L202.86 409.62 L203.43 409.81 L204.00 410.00 L204.57 410.18 L205.15 410.37 L205.72 410.56 L206.29 410.74 L206.86 410.93 L207.43 411.11 L208.00 411.30 L208.57 411.48 L209.14 411.66 L209.72 411.85 L210.29 412.03 L210.86 412.21 L211.43 412.39 L212.00 412.57" fill="none" stroke="#00ffff" stroke-width="2.55" stroke-linejoin="round" stroke-dasharray="26 8.6" stroke-dashoffset="0" clip-path="url(#c1)"/>
<path d="M90.60 489.62 L91.23 490.68 L91.86 491.72 L92.50 492.75 L93.13 493.76 L93.76 494.75 L94.39 495.73 L95.02 496.69 L95.66 497.64 L96.29 498.57 L96.92 499.49 L97.55 500.39 L98.18 501.27 L98.82 502.14 L99.45 503.00 L100.08 503.84 L100.71 504.67 L101.34 505.49 L101.98 506.29 L102.61 507.07 L103.24 507.85 L103.87 508.61 L104.50 509.36 L105.14 510.09 L105.77 510.82 L106.40 511.53 L107.03 512.23 L107.66 512.92 L108.29 513.59 L108.93 514.26 L109.56 514.91 L110.19 515.55 L110.82 516.18 L111.45 516.80 L112.09 517.41 L112.72 518.01 L113.35 518.60 L113.98 519.18 L114.61 519.75 L115.25 520.32 L115.88 520.87 L116.51 521.41 L117.14 521.94 L117.77 522.47 L118.41 522.99 L119.04 523.50 L119.67 524.00 L120.30 524.49 L120.93 524.98 L121.57 525.46 L122.20 525.93 L122.83 526.39 L123.46 526.85 L124.09 527.30 L124.73 527.75 L125.36 528.19 L125.99 528.62 L126.62 529.04 L127.25 529.46 L127.89 529.88 L128.52 530.28 L129.15 530.69 L129.78 531.08 L130.41 531.47 L131.05 531.86 L131.68 532.24 L132.31 532.61 L132.94 532.98 L133.57 533.35 L134.21 533.71 L134.84 534.06 L135.47 534.41 L136.10 534.76 L136.73 535.10 L137.37 535.43 L138.00 535.77 L138.63 536.09 L139.26 536.42 L139.89 536.74 L140.53 537.05 L141.16 537.37 L141.79 537.68 L142.42 537.98 L143.05 538.28 L143.68 538.58 L144.32 538.88 L144.95 539.17 L145.58 539.46 L146.21 539.75 L146.84 540.03 L147.48 540.31 L148.11 540.59 L148.74 540.87 L149.37 541.14 L150.00 541.41 L150.64 541.68 L151.27 541.95 L151.90 542.22 L152.53 542.48 L153.16 542.74 L153.80 543.00 L154.43 543.26 L155.06 543.52 L155.69 543.78 L156.32 544.04 L156.96 544.29 L157.59 544.54 L158.22 544.80 L158.85 545.05 L159.48 545.30 L160.12 545.55 L160.75 545.81 L161.38 546.06 L162.01 546.31 L162.64 546.56 L163.28 546.81 L163.91 547.06 L164.54 547.31 L165.17 547.56 L165.80 547.81 L166.44 548.05 L167.07 548.30 L167.70 548.55 L168.33 548.80 L168.96 549.04 L169.60 549.29 L170.23 549.54 L170.86 549.78 L171.49 550.03 L172.12 550.27 L172.76 550.52 L173.39 550.76 L174.02 551.01 L174.65 551.25 L175.28 551.49 L175.92 551.73 L176.55 551.98 L177.18 552.22 L177.81 552.46 L178.44 552.70 L179.07 552.94 L179.71 553.18 L180.34 553.42 L180.97 553.66 L181.60 553.90 L182.23 554.14 L182.87 554.37 L183.50 554.61 L184.13 554.85 L184.76 555.08 L185.39 555.32 L186.03 555.56 L186.66 555.79 L187.29 556.02 L187.92 556.26 L188.55 556.49 L189.19 556.72 L189.82 556.96 L190.45 557.19 L191.08 557.42 L191.71 557.65 L192.35 557.88 L192.98 558.11 L193.61 558.34 L194.24 558.57 L194.87 558.80 L195.51 559.02 L196.14 559.25 L196.77 559.48 L197.40 559.70 L198.03 559.93 L198.67 560.15 L199.30 560.37 L199.93 560.60 L200.56 560.82 L201.19 561.04 L201.83 561.26 L202.46 561.48 L203.09 561.70 L203.72 561.92 L204.35 562.14 L204.99 562.36 L205.62 562.58 L206.25 562.79 L206.88 563.01 L207.51 563.23 L208.15 563.44 L208.78 563.66 L209.41 563.87 L210.04 564.08 L210.67 564.29 L211.31 564.51 L211.94 564.72 L212.57 564.93 L213.20 565.14 L213.83 565.35 L214.46 565.55 L215.10 565.76 L215.73 565.97 L216.36 566.17 L216.99 566.38 L217.62 566.58 L218.26 566.79 L218.89 566.99 L219.52 567.19 L220.15 567.39 L220.78 567.59 L221.42 567.79 L222.05 567.99 L222.68 568.19 L223.31 568.39 L223.94 568.59 L224.58 568.78 L225.21 568.98 L225.84 569.17 L226.47 569.37 L227.10 569.56 L227.74 569.75 L228.37 569.94 L229.00 570.13" fill="none" stroke="#00ffff" stroke-width="2.55" stroke-linejoin="round" stroke-dasharray="26 8.6" stroke-dashoffset="0" clip-path="url(#c2)"/>
<path d="M219.30 417.30 L225.00 419.30 L232.50 421.80 L238.20 425.00 L242.30 428.20" fill="none" stroke="#00ffff" stroke-width="2.4" stroke-linejoin="round" clip-path="url(#c1)"/>
<path d="M248.50 432.00 L250.40 436.30 L254.20 437.20 L257.90 439.70 L262.60 440.60 L265.50 443.80 L266.80 447.60" fill="none" stroke="#00ffff" stroke-width="2.4" stroke-linejoin="round" clip-path="url(#c1)"/>
<path d="M269.20 456.00 L270.20 458.50 L273.60 458.90 L273.90 465.50 L274.30 478.60" fill="none" stroke="#00ffff" stroke-width="2.4" stroke-linejoin="round" clip-path="url(#c1)"/>
<path d="M274.30 485.20 L274.50 490.00" fill="none" stroke="#00ffff" stroke-width="2.4" stroke-linejoin="round" clip-path="url(#c1)"/>
<path d="M279.40 490.00 L280.90 473.00 L282.40 462.60" fill="none" stroke="#00ffff" stroke-width="2.4" stroke-linejoin="round" clip-path="url(#c1)"/>
<path d="M284.30 457.90 L286.70 464.50 L289.90 457.00 L293.10 447.60" fill="none" stroke="#00ffff" stroke-width="2.4" stroke-linejoin="round" clip-path="url(#c1)"/>
<path d="M300.30 442.50 L307.80 441.60 L311.60 436.30 L314.40 438.20 L318.50 432.50" fill="none" stroke="#00ffff" stroke-width="2.4" stroke-linejoin="round" clip-path="url(#c1)"/>
<path d="M328.50 432.50 L337.00 432.90 L342.60 429.70 L353.00 429.70" fill="none" stroke="#00ffff" stroke-width="2.4" stroke-linejoin="round" clip-path="url(#c1)"/>
<path d="M360.90 429.10 L363.30 430.10 L367.10 427.30 L369.00 427.00" fill="none" stroke="#00ffff" stroke-width="2.4" stroke-linejoin="round" clip-path="url(#c1)"/>
<path d="M235.40 572.80 L243.80 577.20 L247.60 577.60 L251.40 581.90 L255.10 582.50 L258.90 584.80" fill="none" stroke="#00ffff" stroke-width="2.4" stroke-linejoin="round" clip-path="url(#c2)"/>
<path d="M264.90 588.50 L267.30 592.30 L270.20 597.90 L273.60 598.90 L274.30 609.00" fill="none" stroke="#00ffff" stroke-width="2.4" stroke-linejoin="round" clip-path="url(#c2)"/>
<path d="M274.30 616.00 L275.10 644.10" fill="none" stroke="#00ffff" stroke-width="2.4" stroke-linejoin="round" clip-path="url(#c2)"/>
<path d="M275.10 652.90 L276.40 679.20" fill="none" stroke="#00ffff" stroke-width="2.4" stroke-linejoin="round" clip-path="url(#c2)"/>
<path d="M276.90 684.50 L276.40 700.30" fill="none" stroke="#00ffff" stroke-width="2.4" stroke-linejoin="round" clip-path="url(#c2)"/>
<path d="M279.00 650.30 L276.90 675.70" fill="none" stroke="#00ffff" stroke-width="2.4" stroke-linejoin="round" clip-path="url(#c2)"/>
<path d="M280.00 615.10 L278.60 641.50" fill="none" stroke="#00ffff" stroke-width="2.4" stroke-linejoin="round" clip-path="url(#c2)"/>
<path d="M280.80 606.30 L282.20 595.80 L285.70 602.00 L290.90 595.50" fill="none" stroke="#00ffff" stroke-width="2.4" stroke-linejoin="round" clip-path="url(#c2)"/>
<path d="M296.10 588.50 L300.30 586.60 L307.80 585.70 L311.60 581.90 L314.40 582.90 L317.60 580.00" fill="none" stroke="#00ffff" stroke-width="2.4" stroke-linejoin="round" clip-path="url(#c2)"/>
<path d="M326.60 580.00 L337.00 579.50 L342.60 577.20 L353.00 576.80" fill="none" stroke="#00ffff" stroke-width="2.4" stroke-linejoin="round" clip-path="url(#c2)"/>
<path d="M359.60 576.30 L362.00 577.20 L367.10 575.00 L369.00 575.00" fill="none" stroke="#00ffff" stroke-width="2.4" stroke-linejoin="round" clip-path="url(#c2)"/>
<path d="M118.18 59.10 H368.90" stroke="#ff8c00" stroke-width="2.5" fill="none"/>
<path d="M118.18 49.80 V68.40" stroke="#ff8c00" stroke-width="2.5" fill="none"/>
<path d="M268.98 54.77 L283.98 54.77 L276.48 67.76 Z" stroke="#ff8c00" stroke-width="2.5" fill="none" stroke-linejoin="miter"/>
<path d="M159.50 79.30 H185.30" stroke="#0000ff" stroke-width="2.5" fill="none"/>
<path d="M159.50 70.00 V88.60" stroke="#0000ff" stroke-width="2.5" fill="none"/>
<path d="M185.30 70.00 V88.60" stroke="#0000ff" stroke-width="2.5" fill="none"/>
<path d="M164.50 74.97 L179.50 74.97 L172.00 87.96 Z" stroke="#0000ff" stroke-width="2.5" fill="none" stroke-linejoin="miter"/>
<path d="M225.82 151.20 H292.31" stroke="#ff0000" stroke-width="2.5" fill="none"/>
<path d="M225.82 141.90 V160.50" stroke="#ff0000" stroke-width="2.5" fill="none"/>
<path d="M292.31 141.90 V160.50" stroke="#ff0000" stroke-width="2.5" fill="none"/>
<rect x="270.03" y="144.75" width="12.90" height="12.90" stroke="#ff0000" stroke-width="2.5" fill="none"/>
<path d="M172.00 130.20 L173.65 135.23 L178.94 135.24 L174.66 138.37 L176.29 143.41 L172.00 140.30 L167.71 143.41 L169.34 138.37 L165.06 135.24 L170.36 135.23 Z" stroke="#0000ff" stroke-width="2.3" fill="none" stroke-linejoin="round"/>
<path d="M276.48 135.20 L278.13 140.23 L283.42 140.24 L279.14 143.37 L280.77 148.41 L276.48 145.30 L272.19 148.41 L273.82 143.37 L269.54 140.24 L274.83 140.23 Z" stroke="#ff8c00" stroke-width="2.3" fill="none" stroke-linejoin="round"/>
<path d="M504.98 89.60 H755.30" stroke="#ff8c00" stroke-width="2.5" fill="none"/>
<path d="M504.98 80.30 V98.90" stroke="#ff8c00" stroke-width="2.5" fill="none"/>
<path d="M655.78 85.27 L670.78 85.27 L663.28 98.26 Z" stroke="#ff8c00" stroke-width="2.5" fill="none" stroke-linejoin="miter"/>
<path d="M546.30 78.50 H572.10" stroke="#0000ff" stroke-width="2.5" fill="none"/>
<path d="M546.30 69.20 V87.80" stroke="#0000ff" stroke-width="2.5" fill="none"/>
<path d="M572.10 69.20 V87.80" stroke="#0000ff" stroke-width="2.5" fill="none"/>
<path d="M551.30 74.17 L566.30 74.17 L558.80 87.16 Z" stroke="#0000ff" stroke-width="2.5" fill="none" stroke-linejoin="miter"/>
<path d="M612.62 201.40 H679.11" stroke="#ff0000" stroke-width="2.5" fill="none"/>
<path d="M612.62 192.10 V210.70" stroke="#ff0000" stroke-width="2.5" fill="none"/>
<path d="M679.11 192.10 V210.70" stroke="#ff0000" stroke-width="2.5" fill="none"/>
<rect x="656.83" y="194.95" width="12.90" height="12.90" stroke="#ff0000" stroke-width="2.5" fill="none"/>
<path d="M504.98 372.60 H755.30" stroke="#ff8c00" stroke-width="2.5" fill="none"/>
<path d="M504.98 363.30 V381.90" stroke="#ff8c00" stroke-width="2.5" fill="none"/>
<path d="M655.78 368.27 L670.78 368.27 L663.28 381.26 Z" stroke="#ff8c00" stroke-width="2.5" fill="none" stroke-linejoin="miter"/>
<path d="M546.30 288.30 H572.10" stroke="#0000ff" stroke-width="2.5" fill="none"/>
<path d="M546.30 279.00 V297.60" stroke="#0000ff" stroke-width="2.5" fill="none"/>
<path d="M572.10 279.00 V297.60" stroke="#0000ff" stroke-width="2.5" fill="none"/>
<path d="M551.30 283.97 L566.30 283.97 L558.80 296.96 Z" stroke="#0000ff" stroke-width="2.5" fill="none" stroke-linejoin="miter"/>
<path d="M612.62 356.20 H679.11" stroke="#ff0000" stroke-width="2.5" fill="none"/>
<path d="M612.62 346.90 V365.50" stroke="#ff0000" stroke-width="2.5" fill="none"/>
<path d="M679.11 346.90 V365.50" stroke="#ff0000" stroke-width="2.5" fill="none"/>
<rect x="656.83" y="349.75" width="12.90" height="12.90" stroke="#ff0000" stroke-width="2.5" fill="none"/>
<path d="M504.98 629.80 H755.30" stroke="#ff8c00" stroke-width="2.5" fill="none"/>
<path d="M504.98 620.50 V639.10" stroke="#ff8c00" stroke-width="2.5" fill="none"/>
<path d="M655.78 634.13 L670.78 634.13 L663.28 621.14 Z" stroke="#ff8c00" stroke-width="2.5" fill="none" stroke-linejoin="miter"/>
<path d="M546.30 671.40 H572.10" stroke="#0000ff" stroke-width="2.5" fill="none"/>
<path d="M546.30 662.10 V680.70" stroke="#0000ff" stroke-width="2.5" fill="none"/>
<path d="M572.10 662.10 V680.70" stroke="#0000ff" stroke-width="2.5" fill="none"/>
<path d="M551.30 675.73 L566.30 675.73 L558.80 662.74 Z" stroke="#0000ff" stroke-width="2.5" fill="none" stroke-linejoin="miter"/>
<path d="M612.62 581.40 H679.11" stroke="#ff0000" stroke-width="2.5" fill="none"/>
<path d="M612.62 572.10 V590.70" stroke="#ff0000" stroke-width="2.5" fill="none"/>
<path d="M679.11 572.10 V590.70" stroke="#ff0000" stroke-width="2.5" fill="none"/>
<rect x="656.83" y="574.95" width="12.90" height="12.90" stroke="#ff0000" stroke-width="2.5" fill="none"/>
<rect x="86.90" y="43.20" width="282.00" height="222.80" fill="none" stroke="#000" stroke-width="1.5"/>
<path d="M118.18 266.00 L118.18 260.50" stroke="#000" stroke-width="1.5" fill="none"/>
<path d="M118.18 43.20 L118.18 48.70" stroke="#000" stroke-width="1.5" fill="none"/>
<path d="M149.84 266.00 L149.84 255.10" stroke="#000" stroke-width="1.5" fill="none"/>
<path d="M149.84 43.20 L149.84 54.10" stroke="#000" stroke-width="1.5" fill="none"/>
<path d="M181.50 266.00 L181.50 260.50" stroke="#000" stroke-width="1.5" fill="none"/>
<path d="M181.50 43.20 L181.50 48.70" stroke="#000" stroke-width="1.5" fill="none"/>
<path d="M213.16 266.00 L213.16 260.50" stroke="#000" stroke-width="1.5" fill="none"/>
<path d="M213.16 43.20 L213.16 48.70" stroke="#000" stroke-width="1.5" fill="none"/>
<path d="M244.82 266.00 L244.82 255.10" stroke="#000" stroke-width="1.5" fill="none"/>
<path d="M244.82 43.20 L244.82 54.10" stroke="#000" stroke-width="1.5" fill="none"/>
<path d="M276.48 266.00 L276.48 260.50" stroke="#000" stroke-width="1.5" fill="none"/>
<path d="M276.48 43.20 L276.48 48.70" stroke="#000" stroke-width="1.5" fill="none"/>
<path d="M308.14 266.00 L308.14 260.50" stroke="#000" stroke-width="1.5" fill="none"/>
<path d="M308.14 43.20 L308.14 48.70" stroke="#000" stroke-width="1.5" fill="none"/>
<path d="M339.80 266.00 L339.80 255.10" stroke="#000" stroke-width="1.5" fill="none"/>
<path d="M339.80 43.20 L339.80 54.10" stroke="#000" stroke-width="1.5" fill="none"/>
<path d="M86.90 266.00 L92.40 266.00" stroke="#000" stroke-width="1.5" fill="none"/>
<path d="M368.90 266.00 L363.40 266.00" stroke="#000" stroke-width="1.5" fill="none"/>
<path d="M86.90 221.44 L97.80 221.44" stroke="#000" stroke-width="1.5" fill="none"/>
<path d="M368.90 221.44 L358.00 221.44" stroke="#000" stroke-width="1.5" fill="none"/>
<path d="M86.90 176.88 L92.40 176.88" stroke="#000" stroke-width="1.5" fill="none"/>
<path d="M368.90 176.88 L363.40 176.88" stroke="#000" stroke-width="1.5" fill="none"/>
<path d="M86.90 132.32 L97.80 132.32" stroke="#000" stroke-width="1.5" fill="none"/>
<path d="M368.90 132.32 L358.00 132.32" stroke="#000" stroke-width="1.5" fill="none"/>
<path d="M86.90 87.76 L92.40 87.76" stroke="#000" stroke-width="1.5" fill="none"/>
<path d="M368.90 87.76 L363.40 87.76" stroke="#000" stroke-width="1.5" fill="none"/>
<path d="M86.90 43.20 L97.80 43.20" stroke="#000" stroke-width="1.5" fill="none"/>
<path d="M368.90 43.20 L358.00 43.20" stroke="#000" stroke-width="1.5" fill="none"/>
<rect x="86.90" y="266.00" width="282.00" height="222.80" fill="none" stroke="#000" stroke-width="1.5"/>
<path d="M118.18 488.80 L118.18 483.30" stroke="#000" stroke-width="1.5" fill="none"/>
<path d="M118.18 266.00 L118.18 271.50" stroke="#000" stroke-width="1.5" fill="none"/>
<path d="M149.84 488.80 L149.84 477.90" stroke="#000" stroke-width="1.5" fill="none"/>
<path d="M149.84 266.00 L149.84 276.90" stroke="#000" stroke-width="1.5" fill="none"/>
<path d="M181.50 488.80 L181.50 483.30" stroke="#000" stroke-width="1.5" fill="none"/>
<path d="M181.50 266.00 L181.50 271.50" stroke="#000" stroke-width="1.5" fill="none"/>
<path d="M213.16 488.80 L213.16 483.30" stroke="#000" stroke-width="1.5" fill="none"/>
<path d="M213.16 266.00 L213.16 271.50" stroke="#000" stroke-width="1.5" fill="none"/>
<path d="M244.82 488.80 L244.82 477.90" stroke="#000" stroke-width="1.5" fill="none"/>
<path d="M244.82 266.00 L244.82 276.90" stroke="#000" stroke-width="1.5" fill="none"/>
<path d="M276.48 488.80 L276.48 483.30" stroke="#000" stroke-width="1.5" fill="none"/>
<path d="M276.48 266.00 L276.48 271.50" stroke="#000" stroke-width="1.5" fill="none"/>
<path d="M308.14 488.80 L308.14 483.30" stroke="#000" stroke-width="1.5" fill="none"/>
<path d="M308.14 266.00 L308.14 271.50" stroke="#000" stroke-width="1.5" fill="none"/>
<path d="M339.80 488.80 L339.80 477.90" stroke="#000" stroke-width="1.5" fill="none"/>
<path d="M339.80 266.00 L339.80 276.90" stroke="#000" stroke-width="1.5" fill="none"/>
<path d="M86.90 470.23 L92.40 470.23" stroke="#000" stroke-width="1.5" fill="none"/>
<path d="M368.90 470.23 L363.40 470.23" stroke="#000" stroke-width="1.5" fill="none"/>
<path d="M86.90 433.10 L97.80 433.10" stroke="#000" stroke-width="1.5" fill="none"/>
<path d="M368.90 433.10 L358.00 433.10" stroke="#000" stroke-width="1.5" fill="none"/>
<path d="M86.90 395.97 L92.40 395.97" stroke="#000" stroke-width="1.5" fill="none"/>
<path d="M368.90 395.97 L363.40 395.97" stroke="#000" stroke-width="1.5" fill="none"/>
<path d="M86.90 358.83 L97.80 358.83" stroke="#000" stroke-width="1.5" fill="none"/>
<path d="M368.90 358.83 L358.00 358.83" stroke="#000" stroke-width="1.5" fill="none"/>
<path d="M86.90 321.70 L92.40 321.70" stroke="#000" stroke-width="1.5" fill="none"/>
<path d="M368.90 321.70 L363.40 321.70" stroke="#000" stroke-width="1.5" fill="none"/>
<path d="M86.90 284.57 L97.80 284.57" stroke="#000" stroke-width="1.5" fill="none"/>
<path d="M368.90 284.57 L358.00 284.57" stroke="#000" stroke-width="1.5" fill="none"/>
<rect x="86.90" y="488.80" width="282.00" height="222.80" fill="none" stroke="#000" stroke-width="1.5"/>
<path d="M118.18 711.60 L118.18 706.10" stroke="#000" stroke-width="1.5" fill="none"/>
<path d="M118.18 488.80 L118.18 494.30" stroke="#000" stroke-width="1.5" fill="none"/>
<path d="M149.84 711.60 L149.84 700.70" stroke="#000" stroke-width="1.5" fill="none"/>
<path d="M149.84 488.80 L149.84 499.70" stroke="#000" stroke-width="1.5" fill="none"/>
<path d="M181.50 711.60 L181.50 706.10" stroke="#000" stroke-width="1.5" fill="none"/>
<path d="M181.50 488.80 L181.50 494.30" stroke="#000" stroke-width="1.5" fill="none"/>
<path d="M213.16 711.60 L213.16 706.10" stroke="#000" stroke-width="1.5" fill="none"/>
<path d="M213.16 488.80 L213.16 494.30" stroke="#000" stroke-width="1.5" fill="none"/>
<path d="M244.82 711.60 L244.82 700.70" stroke="#000" stroke-width="1.5" fill="none"/>
<path d="M244.82 488.80 L244.82 499.70" stroke="#000" stroke-width="1.5" fill="none"/>
<path d="M276.48 711.60 L276.48 706.10" stroke="#000" stroke-width="1.5" fill="none"/>
<path d="M276.48 488.80 L276.48 494.30" stroke="#000" stroke-width="1.5" fill="none"/>
<path d="M308.14 711.60 L308.14 706.10" stroke="#000" stroke-width="1.5" fill="none"/>
<path d="M308.14 488.80 L308.14 494.30" stroke="#000" stroke-width="1.5" fill="none"/>
<path d="M339.80 711.60 L339.80 700.70" stroke="#000" stroke-width="1.5" fill="none"/>
<path d="M339.80 488.80 L339.80 499.70" stroke="#000" stroke-width="1.5" fill="none"/>
<path d="M86.90 711.60 L97.80 711.60" stroke="#000" stroke-width="1.5" fill="none"/>
<path d="M368.90 711.60 L358.00 711.60" stroke="#000" stroke-width="1.5" fill="none"/>
<path d="M86.90 685.39 L92.40 685.39" stroke="#000" stroke-width="1.5" fill="none"/>
<path d="M368.90 685.39 L363.40 685.39" stroke="#000" stroke-width="1.5" fill="none"/>
<path d="M86.90 659.18 L97.80 659.18" stroke="#000" stroke-width="1.5" fill="none"/>
<path d="M368.90 659.18 L358.00 659.18" stroke="#000" stroke-width="1.5" fill="none"/>
<path d="M86.90 632.96 L92.40 632.96" stroke="#000" stroke-width="1.5" fill="none"/>
<path d="M368.90 632.96 L363.40 632.96" stroke="#000" stroke-width="1.5" fill="none"/>
<path d="M86.90 606.75 L97.80 606.75" stroke="#000" stroke-width="1.5" fill="none"/>
<path d="M368.90 606.75 L358.00 606.75" stroke="#000" stroke-width="1.5" fill="none"/>
<path d="M86.90 580.54 L92.40 580.54" stroke="#000" stroke-width="1.5" fill="none"/>
<path d="M368.90 580.54 L363.40 580.54" stroke="#000" stroke-width="1.5" fill="none"/>
<path d="M86.90 554.33 L97.80 554.33" stroke="#000" stroke-width="1.5" fill="none"/>
<path d="M368.90 554.33 L358.00 554.33" stroke="#000" stroke-width="1.5" fill="none"/>
<path d="M86.90 528.12 L92.40 528.12" stroke="#000" stroke-width="1.5" fill="none"/>
<path d="M368.90 528.12 L363.40 528.12" stroke="#000" stroke-width="1.5" fill="none"/>
<path d="M86.90 501.91 L97.80 501.91" stroke="#000" stroke-width="1.5" fill="none"/>
<path d="M368.90 501.91 L358.00 501.91" stroke="#000" stroke-width="1.5" fill="none"/>
<rect x="473.70" y="43.20" width="281.60" height="222.80" fill="none" stroke="#000" stroke-width="1.5"/>
<path d="M504.98 266.00 L504.98 260.50" stroke="#000" stroke-width="1.5" fill="none"/>
<path d="M504.98 43.20 L504.98 48.70" stroke="#000" stroke-width="1.5" fill="none"/>
<path d="M536.64 266.00 L536.64 255.10" stroke="#000" stroke-width="1.5" fill="none"/>
<path d="M536.64 43.20 L536.64 54.10" stroke="#000" stroke-width="1.5" fill="none"/>
<path d="M568.30 266.00 L568.30 260.50" stroke="#000" stroke-width="1.5" fill="none"/>
<path d="M568.30 43.20 L568.30 48.70" stroke="#000" stroke-width="1.5" fill="none"/>
<path d="M599.96 266.00 L599.96 260.50" stroke="#000" stroke-width="1.5" fill="none"/>
<path d="M599.96 43.20 L599.96 48.70" stroke="#000" stroke-width="1.5" fill="none"/>
<path d="M631.62 266.00 L631.62 255.10" stroke="#000" stroke-width="1.5" fill="none"/>
<path d="M631.62 43.20 L631.62 54.10" stroke="#000" stroke-width="1.5" fill="none"/>
<path d="M663.28 266.00 L663.28 260.50" stroke="#000" stroke-width="1.5" fill="none"/>
<path d="M663.28 43.20 L663.28 48.70" stroke="#000" stroke-width="1.5" fill="none"/>
<path d="M694.94 266.00 L694.94 260.50" stroke="#000" stroke-width="1.5" fill="none"/>
<path d="M694.94 43.20 L694.94 48.70" stroke="#000" stroke-width="1.5" fill="none"/>
<path d="M726.60 266.00 L726.60 255.10" stroke="#000" stroke-width="1.5" fill="none"/>
<path d="M726.60 43.20 L726.60 54.10" stroke="#000" stroke-width="1.5" fill="none"/>
<path d="M473.70 235.27 L479.20 235.27" stroke="#000" stroke-width="1.5" fill="none"/>
<path d="M755.30 235.27 L749.80 235.27" stroke="#000" stroke-width="1.5" fill="none"/>
<path d="M473.70 196.86 L484.60 196.86" stroke="#000" stroke-width="1.5" fill="none"/>
<path d="M755.30 196.86 L744.40 196.86" stroke="#000" stroke-width="1.5" fill="none"/>
<path d="M473.70 158.44 L479.20 158.44" stroke="#000" stroke-width="1.5" fill="none"/>
<path d="M755.30 158.44 L749.80 158.44" stroke="#000" stroke-width="1.5" fill="none"/>
<path d="M473.70 120.03 L484.60 120.03" stroke="#000" stroke-width="1.5" fill="none"/>
<path d="M755.30 120.03 L744.40 120.03" stroke="#000" stroke-width="1.5" fill="none"/>
<path d="M473.70 81.61 L479.20 81.61" stroke="#000" stroke-width="1.5" fill="none"/>
<path d="M755.30 81.61 L749.80 81.61" stroke="#000" stroke-width="1.5" fill="none"/>
<path d="M473.70 43.20 L484.60 43.20" stroke="#000" stroke-width="1.5" fill="none"/>
<path d="M755.30 43.20 L744.40 43.20" stroke="#000" stroke-width="1.5" fill="none"/>
<rect x="473.70" y="266.00" width="281.60" height="222.80" fill="none" stroke="#000" stroke-width="1.5"/>
<path d="M504.98 488.80 L504.98 483.30" stroke="#000" stroke-width="1.5" fill="none"/>
<path d="M504.98 266.00 L504.98 271.50" stroke="#000" stroke-width="1.5" fill="none"/>
<path d="M536.64 488.80 L536.64 477.90" stroke="#000" stroke-width="1.5" fill="none"/>
<path d="M536.64 266.00 L536.64 276.90" stroke="#000" stroke-width="1.5" fill="none"/>
<path d="M568.30 488.80 L568.30 483.30" stroke="#000" stroke-width="1.5" fill="none"/>
<path d="M568.30 266.00 L568.30 271.50" stroke="#000" stroke-width="1.5" fill="none"/>
<path d="M599.96 488.80 L599.96 483.30" stroke="#000" stroke-width="1.5" fill="none"/>
<path d="M599.96 266.00 L599.96 271.50" stroke="#000" stroke-width="1.5" fill="none"/>
<path d="M631.62 488.80 L631.62 477.90" stroke="#000" stroke-width="1.5" fill="none"/>
<path d="M631.62 266.00 L631.62 276.90" stroke="#000" stroke-width="1.5" fill="none"/>
<path d="M663.28 488.80 L663.28 483.30" stroke="#000" stroke-width="1.5" fill="none"/>
<path d="M663.28 266.00 L663.28 271.50" stroke="#000" stroke-width="1.5" fill="none"/>
<path d="M694.94 488.80 L694.94 483.30" stroke="#000" stroke-width="1.5" fill="none"/>
<path d="M694.94 266.00 L694.94 271.50" stroke="#000" stroke-width="1.5" fill="none"/>
<path d="M726.60 488.80 L726.60 477.90" stroke="#000" stroke-width="1.5" fill="none"/>
<path d="M726.60 266.00 L726.60 276.90" stroke="#000" stroke-width="1.5" fill="none"/>
<path d="M473.70 466.52 L484.60 466.52" stroke="#000" stroke-width="1.5" fill="none"/>
<path d="M755.30 466.52 L744.40 466.52" stroke="#000" stroke-width="1.5" fill="none"/>
<path d="M473.70 421.96 L479.20 421.96" stroke="#000" stroke-width="1.5" fill="none"/>
<path d="M755.30 421.96 L749.80 421.96" stroke="#000" stroke-width="1.5" fill="none"/>
<path d="M473.70 377.40 L484.60 377.40" stroke="#000" stroke-width="1.5" fill="none"/>
<path d="M755.30 377.40 L744.40 377.40" stroke="#000" stroke-width="1.5" fill="none"/>
<path d="M473.70 332.84 L479.20 332.84" stroke="#000" stroke-width="1.5" fill="none"/>
<path d="M755.30 332.84 L749.80 332.84" stroke="#000" stroke-width="1.5" fill="none"/>
<path d="M473.70 288.28 L484.60 288.28" stroke="#000" stroke-width="1.5" fill="none"/>
<path d="M755.30 288.28 L744.40 288.28" stroke="#000" stroke-width="1.5" fill="none"/>
<rect x="473.70" y="488.80" width="281.60" height="222.80" fill="none" stroke="#000" stroke-width="1.5"/>
<path d="M504.98 711.60 L504.98 706.10" stroke="#000" stroke-width="1.5" fill="none"/>
<path d="M504.98 488.80 L504.98 494.30" stroke="#000" stroke-width="1.5" fill="none"/>
<path d="M536.64 711.60 L536.64 700.70" stroke="#000" stroke-width="1.5" fill="none"/>
<path d="M536.64 488.80 L536.64 499.70" stroke="#000" stroke-width="1.5" fill="none"/>
<path d="M568.30 711.60 L568.30 706.10" stroke="#000" stroke-width="1.5" fill="none"/>
<path d="M568.30 488.80 L568.30 494.30" stroke="#000" stroke-width="1.5" fill="none"/>
<path d="M599.96 711.60 L599.96 706.10" stroke="#000" stroke-width="1.5" fill="none"/>
<path d="M599.96 488.80 L599.96 494.30" stroke="#000" stroke-width="1.5" fill="none"/>
<path d="M631.62 711.60 L631.62 700.70" stroke="#000" stroke-width="1.5" fill="none"/>
<path d="M631.62 488.80 L631.62 499.70" stroke="#000" stroke-width="1.5" fill="none"/>
<path d="M663.28 711.60 L663.28 706.10" stroke="#000" stroke-width="1.5" fill="none"/>
<path d="M663.28 488.80 L663.28 494.30" stroke="#000" stroke-width="1.5" fill="none"/>
<path d="M694.94 711.60 L694.94 706.10" stroke="#000" stroke-width="1.5" fill="none"/>
<path d="M694.94 488.80 L694.94 494.30" stroke="#000" stroke-width="1.5" fill="none"/>
<path d="M726.60 711.60 L726.60 700.70" stroke="#000" stroke-width="1.5" fill="none"/>
<path d="M726.60 488.80 L726.60 499.70" stroke="#000" stroke-width="1.5" fill="none"/>
<path d="M473.70 711.60 L484.60 711.60" stroke="#000" stroke-width="1.5" fill="none"/>
<path d="M755.30 711.60 L744.40 711.60" stroke="#000" stroke-width="1.5" fill="none"/>
<path d="M473.70 683.04 L479.20 683.04" stroke="#000" stroke-width="1.5" fill="none"/>
<path d="M755.30 683.04 L749.80 683.04" stroke="#000" stroke-width="1.5" fill="none"/>
<path d="M473.70 654.47 L484.60 654.47" stroke="#000" stroke-width="1.5" fill="none"/>
<path d="M755.30 654.47 L744.40 654.47" stroke="#000" stroke-width="1.5" fill="none"/>
<path d="M473.70 625.91 L479.20 625.91" stroke="#000" stroke-width="1.5" fill="none"/>
<path d="M755.30 625.91 L749.80 625.91" stroke="#000" stroke-width="1.5" fill="none"/>
<path d="M473.70 597.34 L484.60 597.34" stroke="#000" stroke-width="1.5" fill="none"/>
<path d="M755.30 597.34 L744.40 597.34" stroke="#000" stroke-width="1.5" fill="none"/>
<path d="M473.70 568.78 L479.20 568.78" stroke="#000" stroke-width="1.5" fill="none"/>
<path d="M755.30 568.78 L749.80 568.78" stroke="#000" stroke-width="1.5" fill="none"/>
<path d="M473.70 540.22 L484.60 540.22" stroke="#000" stroke-width="1.5" fill="none"/>
<path d="M755.30 540.22 L744.40 540.22" stroke="#000" stroke-width="1.5" fill="none"/>
<path d="M473.70 511.65 L479.20 511.65" stroke="#000" stroke-width="1.5" fill="none"/>
<path d="M755.30 511.65 L749.80 511.65" stroke="#000" stroke-width="1.5" fill="none"/>
<text transform="translate(56.63 227.34) scale(1.0961 1)" font-family="Liberation Serif, serif" font-size="18.4" fill="#000" stroke="#000" stroke-width="0.3">1</text>
<text transform="translate(65.91 227.34) scale(1.1729 1)" font-family="Liberation Sans, serif" font-size="17.3" fill="#000" stroke="#000" stroke-width="0.3">0</text>
<text transform="translate(58.33 138.22) scale(1.0961 1)" font-family="Liberation Serif, serif" font-size="18.4" fill="#000" stroke="#000" stroke-width="0.3">1</text>
<text transform="translate(67.33 138.22) scale(1.0961 1)" font-family="Liberation Serif, serif" font-size="18.4" fill="#000" stroke="#000" stroke-width="0.3">1</text>
<text transform="translate(56.63 49.10) scale(1.0961 1)" font-family="Liberation Serif, serif" font-size="18.4" fill="#000" stroke="#000" stroke-width="0.3">1</text>
<text transform="translate(65.63 49.10) scale(1.2308 1)" font-family="Liberation Sans, serif" font-size="17.3" fill="#000" stroke="#000" stroke-width="0.3">2</text>
<text transform="translate(65.63 439.00) scale(1.2151 1)" font-family="Liberation Sans, serif" font-size="17.3" fill="#000" stroke="#000" stroke-width="0.3">6</text>
<text transform="translate(65.80 364.73) scale(1.1949 1)" font-family="Liberation Sans, serif" font-size="17.3" fill="#000" stroke="#000" stroke-width="0.3">8</text>
<text transform="translate(56.63 290.47) scale(1.0961 1)" font-family="Liberation Serif, serif" font-size="18.4" fill="#000" stroke="#000" stroke-width="0.3">1</text>
<text transform="translate(65.91 290.47) scale(1.1729 1)" font-family="Liberation Sans, serif" font-size="17.3" fill="#000" stroke="#000" stroke-width="0.3">0</text>
<text transform="translate(65.91 717.50) scale(1.1729 1)" font-family="Liberation Sans, serif" font-size="17.3" fill="#000" stroke="#000" stroke-width="0.3">0</text>
<text transform="translate(65.63 665.08) scale(1.2308 1)" font-family="Liberation Sans, serif" font-size="17.3" fill="#000" stroke="#000" stroke-width="0.3">2</text>
<text transform="translate(66.26 612.65) scale(1.1127 1)" font-family="Liberation Sans, serif" font-size="17.3" fill="#000" stroke="#000" stroke-width="0.3">4</text>
<text transform="translate(65.63 560.23) scale(1.2151 1)" font-family="Liberation Sans, serif" font-size="17.3" fill="#000" stroke="#000" stroke-width="0.3">6</text>
<text transform="translate(65.80 507.81) scale(1.1949 1)" font-family="Liberation Sans, serif" font-size="17.3" fill="#000" stroke="#000" stroke-width="0.3">8</text>
<path d="M431.20 197.06 H441.40" stroke="#000" stroke-width="1.25" fill="none"/>
<text transform="translate(443.43 202.76) scale(1.0961 1)" font-family="Liberation Serif, serif" font-size="18.4" fill="#000" stroke="#000" stroke-width="0.3">1</text>
<text transform="translate(452.41 202.76) scale(1.2334 1)" font-family="Liberation Sans, serif" font-size="17.3" fill="#000" stroke="#000" stroke-width="0.3">7</text>
<path d="M431.20 120.23 H441.40" stroke="#000" stroke-width="1.25" fill="none"/>
<text transform="translate(443.43 125.93) scale(1.0961 1)" font-family="Liberation Serif, serif" font-size="18.4" fill="#000" stroke="#000" stroke-width="0.3">1</text>
<text transform="translate(452.43 125.93) scale(1.2151 1)" font-family="Liberation Sans, serif" font-size="17.3" fill="#000" stroke="#000" stroke-width="0.3">6</text>
<path d="M431.20 43.40 H441.40" stroke="#000" stroke-width="1.25" fill="none"/>
<text transform="translate(443.43 49.10) scale(1.0961 1)" font-family="Liberation Serif, serif" font-size="18.4" fill="#000" stroke="#000" stroke-width="0.3">1</text>
<text transform="translate(452.68 49.10) scale(1.1826 1)" font-family="Liberation Sans, serif" font-size="17.3" fill="#000" stroke="#000" stroke-width="0.3">5</text>
<text transform="translate(442.02 472.42) scale(1.1826 1)" font-family="Liberation Sans, serif" font-size="17.3" fill="#000" stroke="#000" stroke-width="0.3">3</text>
<text transform="translate(452.71 472.42) scale(1.1729 1)" font-family="Liberation Sans, serif" font-size="17.3" fill="#000" stroke="#000" stroke-width="0.3">0</text>
<text transform="translate(442.02 383.30) scale(1.1826 1)" font-family="Liberation Sans, serif" font-size="17.3" fill="#000" stroke="#000" stroke-width="0.3">3</text>
<text transform="translate(452.43 383.30) scale(1.2308 1)" font-family="Liberation Sans, serif" font-size="17.3" fill="#000" stroke="#000" stroke-width="0.3">2</text>
<text transform="translate(442.02 294.18) scale(1.1826 1)" font-family="Liberation Sans, serif" font-size="17.3" fill="#000" stroke="#000" stroke-width="0.3">3</text>
<text transform="translate(453.06 294.18) scale(1.1127 1)" font-family="Liberation Sans, serif" font-size="17.3" fill="#000" stroke="#000" stroke-width="0.3">4</text>
<text transform="translate(452.43 717.50) scale(1.2151 1)" font-family="Liberation Sans, serif" font-size="17.3" fill="#000" stroke="#000" stroke-width="0.3">6</text>
<text transform="translate(452.41 660.37) scale(1.2334 1)" font-family="Liberation Sans, serif" font-size="17.3" fill="#000" stroke="#000" stroke-width="0.3">7</text>
<text transform="translate(452.60 603.24) scale(1.1949 1)" font-family="Liberation Sans, serif" font-size="17.3" fill="#000" stroke="#000" stroke-width="0.3">8</text>
<text transform="translate(452.52 546.12) scale(1.2138 1)" font-family="Liberation Sans, serif" font-size="17.3" fill="#000" stroke="#000" stroke-width="0.3">9</text>
<text transform="translate(128.16 733.40) scale(1.1826 1)" font-family="Liberation Sans, serif" font-size="17.3" fill="#000" stroke="#000" stroke-width="0.3">3</text>
<text transform="translate(138.85 733.40) scale(1.1729 1)" font-family="Liberation Sans, serif" font-size="17.3" fill="#000" stroke="#000" stroke-width="0.3">0</text>
<text transform="translate(149.55 733.40) scale(1.1729 1)" font-family="Liberation Sans, serif" font-size="17.3" fill="#000" stroke="#000" stroke-width="0.3">0</text>
<text transform="translate(160.25 733.40) scale(1.1729 1)" font-family="Liberation Sans, serif" font-size="17.3" fill="#000" stroke="#000" stroke-width="0.3">0</text>
<text transform="translate(222.85 733.40) scale(1.2151 1)" font-family="Liberation Sans, serif" font-size="17.3" fill="#000" stroke="#000" stroke-width="0.3">6</text>
<text transform="translate(233.83 733.40) scale(1.1729 1)" font-family="Liberation Sans, serif" font-size="17.3" fill="#000" stroke="#000" stroke-width="0.3">0</text>
<text transform="translate(244.53 733.40) scale(1.1729 1)" font-family="Liberation Sans, serif" font-size="17.3" fill="#000" stroke="#000" stroke-width="0.3">0</text>
<text transform="translate(255.23 733.40) scale(1.1729 1)" font-family="Liberation Sans, serif" font-size="17.3" fill="#000" stroke="#000" stroke-width="0.3">0</text>
<text transform="translate(317.92 733.40) scale(1.2138 1)" font-family="Liberation Sans, serif" font-size="17.3" fill="#000" stroke="#000" stroke-width="0.3">9</text>
<text transform="translate(328.81 733.40) scale(1.1729 1)" font-family="Liberation Sans, serif" font-size="17.3" fill="#000" stroke="#000" stroke-width="0.3">0</text>
<text transform="translate(339.51 733.40) scale(1.1729 1)" font-family="Liberation Sans, serif" font-size="17.3" fill="#000" stroke="#000" stroke-width="0.3">0</text>
<text transform="translate(350.21 733.40) scale(1.1729 1)" font-family="Liberation Sans, serif" font-size="17.3" fill="#000" stroke="#000" stroke-width="0.3">0</text>
<text transform="translate(514.96 733.40) scale(1.1826 1)" font-family="Liberation Sans, serif" font-size="17.3" fill="#000" stroke="#000" stroke-width="0.3">3</text>
<text transform="translate(525.65 733.40) scale(1.1729 1)" font-family="Liberation Sans, serif" font-size="17.3" fill="#000" stroke="#000" stroke-width="0.3">0</text>
<text transform="translate(536.35 733.40) scale(1.1729 1)" font-family="Liberation Sans, serif" font-size="17.3" fill="#000" stroke="#000" stroke-width="0.3">0</text>
<text transform="translate(547.05 733.40) scale(1.1729 1)" font-family="Liberation Sans, serif" font-size="17.3" fill="#000" stroke="#000" stroke-width="0.3">0</text>
<text transform="translate(609.65 733.40) scale(1.2151 1)" font-family="Liberation Sans, serif" font-size="17.3" fill="#000" stroke="#000" stroke-width="0.3">6</text>
<text transform="translate(620.63 733.40) scale(1.1729 1)" font-family="Liberation Sans, serif" font-size="17.3" fill="#000" stroke="#000" stroke-width="0.3">0</text>
<text transform="translate(631.33 733.40) scale(1.1729 1)" font-family="Liberation Sans, serif" font-size="17.3" fill="#000" stroke="#000" stroke-width="0.3">0</text>
<text transform="translate(642.03 733.40) scale(1.1729 1)" font-family="Liberation Sans, serif" font-size="17.3" fill="#000" stroke="#000" stroke-width="0.3">0</text>
<text transform="translate(704.72 733.40) scale(1.2138 1)" font-family="Liberation Sans, serif" font-size="17.3" fill="#000" stroke="#000" stroke-width="0.3">9</text>
<text transform="translate(715.61 733.40) scale(1.1729 1)" font-family="Liberation Sans, serif" font-size="17.3" fill="#000" stroke="#000" stroke-width="0.3">0</text>
<text transform="translate(726.31 733.40) scale(1.1729 1)" font-family="Liberation Sans, serif" font-size="17.3" fill="#000" stroke="#000" stroke-width="0.3">0</text>
<text transform="translate(737.01 733.40) scale(1.1729 1)" font-family="Liberation Sans, serif" font-size="17.3" fill="#000" stroke="#000" stroke-width="0.3">0</text>
<text transform="translate(35.80 0) rotate(-90) translate(-208.49 0) scale(1.1081 1)" font-family="Liberation Serif, serif" font-size="22.0" fill="#000" stroke="#000" stroke-width="0.35">log</text>
<text transform="translate(35.80 0) rotate(-90) translate(-167.87 0) scale(1.0627 1)" font-family="Liberation Serif, serif" font-size="22.0" font-style="italic" fill="#000" stroke="#000" stroke-width="0.35">B</text>
<text transform="translate(41.60 0) rotate(-90) translate(-151.24 0) scale(0.7556 1)" font-family="Liberation Serif, serif" font-size="15.0" font-weight="bold" fill="#000" stroke="#000" stroke-width="0.2">p</text>
<text transform="translate(35.80 0) rotate(-90) translate(-132.99 0) scale(1.0207 1)" font-family="Liberation Serif, serif" font-size="22.0" fill="#000" stroke="#000" stroke-width="0.35">(G)</text>
<text transform="translate(35.80 0) rotate(-90) translate(-461.89 0) scale(1.1081 1)" font-family="Liberation Serif, serif" font-size="22.0" fill="#000" stroke="#000" stroke-width="0.35">log</text>
<path d="M18.90 417.10 H39.60" stroke="#000" stroke-width="1.35" fill="none"/>
<text transform="translate(35.80 0) rotate(-90) translate(-416.32 0) scale(1.0587 1)" font-family="Liberation Serif, serif" font-size="22.0" font-style="italic" fill="#000" stroke="#000" stroke-width="0.35">B</text>
<circle cx="17.90" cy="409.20" r="1.25" fill="#000"/>
<text transform="translate(41.60 0) rotate(-90) translate(-399.73 0) scale(0.7026 1)" font-family="Liberation Serif, serif" font-size="15.0" font-weight="bold" fill="#000" stroke="#000" stroke-width="0.2">p</text>
<path d="M18.90 389.80 H39.60" stroke="#000" stroke-width="1.35" fill="none"/>
<text transform="translate(35.80 0) rotate(-90) translate(-376.03 0) scale(0.9601 1)" font-family="Liberation Serif, serif" font-size="22.0" fill="#000" stroke="#000" stroke-width="0.35">(G</text>
<text transform="translate(35.80 0) rotate(-90) translate(-342.21 0) scale(1.1400 1)" font-family="Liberation Serif, serif" font-size="22.0" letter-spacing="0.645" fill="#000" stroke="#000" stroke-width="0.35">yr</text>
<text transform="translate(29.90 0) rotate(-90) translate(-318.83 0) scale(1.0188 1)" font-family="Liberation Serif, serif" font-size="14.3" fill="#000" stroke="#000" stroke-width="0.3">−1</text>
<text transform="translate(35.80 0) rotate(-90) translate(-301.55 0) scale(1.0619 1)" font-family="Liberation Serif, serif" font-size="22.0" fill="#000" stroke="#000" stroke-width="0.35">)</text>
<text transform="translate(51.00 0) rotate(-90) translate(-633.89 0) scale(1.1045 1)" font-family="Liberation Serif, serif" font-size="22.0" fill="#000" stroke="#000" stroke-width="0.35">log</text>
<path d="M34.10 588.80 H54.80" stroke="#000" stroke-width="1.35" fill="none"/>
<text transform="translate(51.00 0) rotate(-90) translate(-588.30 0) scale(1.1500 1)" font-family="Liberation Serif, serif" font-size="22.0" font-style="italic" fill="#000" stroke="#000" stroke-width="0.35">n</text>
<path d="M34.10 569.40 H54.80" stroke="#000" stroke-width="1.35" fill="none"/>
<text transform="translate(413.10 0) rotate(-90) translate(-221.99 0) scale(1.1045 1)" font-family="Liberation Serif, serif" font-size="22.0" fill="#000" stroke="#000" stroke-width="0.35">log</text>
<text transform="translate(413.10 0) rotate(-90) translate(-181.13 0) scale(1.0425 1)" font-family="Liberation Serif, serif" font-size="22.0" font-style="italic" fill="#000" stroke="#000" stroke-width="0.35">P</text>
<circle cx="395.20" cy="174.10" r="1.25" fill="#000"/>
<text transform="translate(413.10 0) rotate(-90) translate(-154.70 0) scale(1.1400 1)" font-family="Liberation Serif, serif" font-size="22.0" letter-spacing="1.400" fill="#000" stroke="#000" stroke-width="0.35">(s</text>
<text transform="translate(413.10 0) rotate(-90) translate(-124.93 0) scale(1.1500 1)" font-family="Liberation Serif, serif" font-size="22.0" fill="#000" stroke="#000" stroke-width="0.35">s</text>
<text transform="translate(407.10 0) rotate(-90) translate(-113.55 0) scale(1.0554 1)" font-family="Liberation Serif, serif" font-size="14.3" fill="#000" stroke="#000" stroke-width="0.3">−1</text>
<text transform="translate(413.10 0) rotate(-90) translate(-95.82 0) scale(1.0088 1)" font-family="Liberation Serif, serif" font-size="22.0" fill="#000" stroke="#000" stroke-width="0.35">)</text>
<text transform="translate(426.90 0) rotate(-90) translate(-461.89 0) scale(1.1045 1)" font-family="Liberation Serif, serif" font-size="22.0" fill="#000" stroke="#000" stroke-width="0.35">log</text>
<text transform="translate(426.90 0) rotate(-90) translate(-421.63 0) scale(1.0418 1)" font-family="Liberation Serif, serif" font-size="22.0" font-style="italic" fill="#000" stroke="#000" stroke-width="0.35">E</text>
<circle cx="409.00" cy="414.40" r="1.25" fill="#000"/>
<text transform="translate(426.90 0) rotate(-90) translate(-395.10 0) scale(1.1400 1)" font-family="Liberation Serif, serif" font-size="22.0" letter-spacing="0.871" fill="#000" stroke="#000" stroke-width="0.35">(ergs</text>
<text transform="translate(426.90 0) rotate(-90) translate(-330.43 0) scale(1.1500 1)" font-family="Liberation Serif, serif" font-size="22.0" fill="#000" stroke="#000" stroke-width="0.35">s</text>
<text transform="translate(421.00 0) rotate(-90) translate(-318.83 0) scale(1.0188 1)" font-family="Liberation Serif, serif" font-size="14.3" fill="#000" stroke="#000" stroke-width="0.3">−1</text>
<text transform="translate(426.90 0) rotate(-90) translate(-301.55 0) scale(1.0619 1)" font-family="Liberation Serif, serif" font-size="22.0" fill="#000" stroke="#000" stroke-width="0.35">)</text>
<text transform="translate(435.40 0) rotate(-90) translate(-656.98 0) scale(1.1008 1)" font-family="Liberation Serif, serif" font-size="22.0" fill="#000" stroke="#000" stroke-width="0.35">log</text>
<text transform="translate(435.40 0) rotate(-90) translate(-614.16 0) scale(1.1500 1)" font-family="Liberation Serif, serif" font-size="22.0" font-style="italic" fill="#000" stroke="#000" stroke-width="0.35">τ</text>
<text transform="translate(442.40 0) rotate(-90) translate(-602.13 0) scale(1.0396 1)" font-family="Liberation Serif, serif" font-size="15.0" font-weight="bold" fill="#000" stroke="#000" stroke-width="0.2">c</text>
<text transform="translate(435.40 0) rotate(-90) translate(-583.50 0) scale(1.1400 1)" font-family="Liberation Serif, serif" font-size="22.0" letter-spacing="0.792" fill="#000" stroke="#000" stroke-width="0.35">(yr)</text>
<text transform="translate(195.83 761.20) scale(1.1099 1)" font-family="Liberation Serif, serif" font-size="22.0" font-style="italic" fill="#000" stroke="#000" stroke-width="0.35">t</text>
<text transform="translate(217.50 761.20) scale(1.1400 1)" font-family="Liberation Serif, serif" font-size="22.0" letter-spacing="0.851" fill="#000" stroke="#000" stroke-width="0.35">(yr)</text>
<text transform="translate(582.63 761.20) scale(1.1099 1)" font-family="Liberation Serif, serif" font-size="22.0" font-style="italic" fill="#000" stroke="#000" stroke-width="0.35">t</text>
<text transform="translate(604.30 761.20) scale(1.1400 1)" font-family="Liberation Serif, serif" font-size="22.0" letter-spacing="0.851" fill="#000" stroke="#000" stroke-width="0.35">(yr)</text>
<text transform="translate(228.91 239.80) scale(1.1400 1)" font-family="Liberation Serif, serif" font-size="20.4" letter-spacing="1.266" fill="#000" stroke="#000" stroke-width="0.35">crustal</text>
<text transform="translate(309.58 239.80) scale(1.1400 1)" font-family="Liberation Serif, serif" font-size="20.4" letter-spacing="0.303" fill="#000" stroke="#000" stroke-width="0.35">field</text>
<text transform="translate(562.69 66.30) scale(1.1400 1)" font-family="Liberation Serif, serif" font-size="18.7" letter-spacing="0.936" fill="#0000ff" stroke="#0000ff" stroke-width="0.35">Puppis</text>
<text transform="translate(634.65 66.30) scale(0.7964 1)" font-family="Liberation Serif, serif" font-size="18.7" fill="#0000ff" stroke="#0000ff" stroke-width="0.35">A</text>
<text transform="translate(667.38 81.90) scale(1.1045 1)" font-family="Liberation Serif, serif" font-size="18.7" fill="#ff8c00" stroke="#ff8c00" stroke-width="0.35">1E</text>
<text transform="translate(698.63 81.90) scale(1.1400 1)" font-family="Liberation Serif, serif" font-size="18.7" letter-spacing="0.600" fill="#ff8c00" stroke="#ff8c00" stroke-width="0.35">1207</text>
<text transform="translate(666.80 189.30) scale(1.1160 1)" font-family="Liberation Serif, serif" font-size="18.7" fill="#ff0000" stroke="#ff0000" stroke-width="0.35">Kes</text>
<text transform="translate(708.39 189.30) scale(1.1400 1)" font-family="Liberation Serif, serif" font-size="18.7" letter-spacing="0.931" fill="#ff0000" stroke="#ff0000" stroke-width="0.35">79</text>
</svg>
</body></html>
